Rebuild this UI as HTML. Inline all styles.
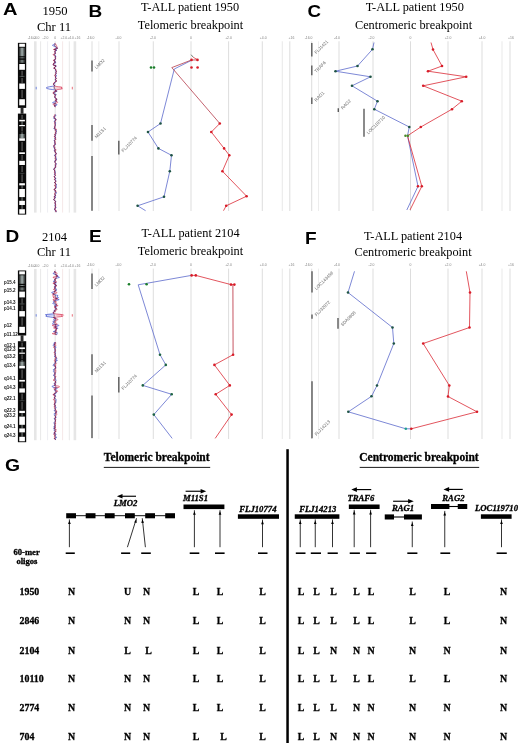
<!DOCTYPE html>
<html><head><meta charset="utf-8"><title>Figure</title>
<style>
html,body{margin:0;padding:0;background:#fff;}
body{width:520px;height:743px;overflow:hidden;font-family:"Liberation Serif",serif;}
svg{display:block;filter:blur(0.35px);}
</style></head><body>
<svg width="520" height="743" viewBox="0 0 520 743">
<defs>
<linearGradient id="gL" x1="0" x2="1" y1="0" y2="0"><stop offset="0" stop-color="#1c1c1c"/><stop offset="0.5" stop-color="#a3b0ae"/><stop offset="1" stop-color="#1c1c1c"/></linearGradient>
<linearGradient id="gM" x1="0" x2="1" y1="0" y2="0"><stop offset="0" stop-color="#111"/><stop offset="0.5" stop-color="#7c8684"/><stop offset="1" stop-color="#111"/></linearGradient>
<linearGradient id="gD" x1="0" x2="1" y1="0" y2="0"><stop offset="0" stop-color="#050505"/><stop offset="0.3" stop-color="#0c0c0c"/><stop offset="0.5" stop-color="#6a706e"/><stop offset="0.7" stop-color="#0c0c0c"/><stop offset="1" stop-color="#050505"/></linearGradient>
</defs>
<rect width="520" height="743" fill="#fff"/>
<text transform='translate(2.9,15.2) scale(1.16,1)' font-size='17.3' font-weight='bold' font-family='"Liberation Sans", sans-serif' fill='#000'>A</text>
<text transform='translate(88.4,17.4) scale(1.1,1)' font-size='17.3' font-weight='bold' font-family='"Liberation Sans", sans-serif' fill='#000'>B</text>
<text transform='translate(307.6,17.3) scale(1.08,1)' font-size='17.3' font-weight='bold' font-family='"Liberation Sans", sans-serif' fill='#000'>C</text>
<text transform='translate(5.6,242.3) scale(1.1,1)' font-size='17.3' font-weight='bold' font-family='"Liberation Sans", sans-serif' fill='#000'>D</text>
<text transform='translate(89.0,242.3) scale(1.1,1)' font-size='17.3' font-weight='bold' font-family='"Liberation Sans", sans-serif' fill='#000'>E</text>
<text transform='translate(304.9,243.8) scale(1.1,1)' font-size='17.3' font-weight='bold' font-family='"Liberation Sans", sans-serif' fill='#000'>F</text>
<text transform='translate(4.9,471.3) scale(1.12,1)' font-size='17.3' font-weight='bold' font-family='"Liberation Sans", sans-serif' fill='#000'>G</text>
<text x='55' y='15' font-size='12.6' text-anchor='middle' font-weight='normal' font-style='normal' font-family='"Liberation Serif", serif' fill='#000' >1950</text>
<text x='54' y='30.5' font-size='12.6' text-anchor='middle' font-weight='normal' font-style='normal' font-family='"Liberation Serif", serif' fill='#000' >Chr 11</text>
<text x='54.5' y='241' font-size='12.5' text-anchor='middle' font-weight='normal' font-style='normal' font-family='"Liberation Serif", serif' fill='#000' >2104</text>
<text x='54' y='256' font-size='12.5' text-anchor='middle' font-weight='normal' font-style='normal' font-family='"Liberation Serif", serif' fill='#000' >Chr 11</text>
<text x='190' y='10.5' font-size='12.3' text-anchor='middle' font-weight='normal' font-style='normal' font-family='"Liberation Serif", serif' fill='#000' >T-ALL patient 1950</text>
<text x='190.5' y='29' font-size='12.3' text-anchor='middle' font-weight='normal' font-style='normal' font-family='"Liberation Serif", serif' fill='#000' >Telomeric breakpoint</text>
<text x='414.8' y='10.5' font-size='12.3' text-anchor='middle' font-weight='normal' font-style='normal' font-family='"Liberation Serif", serif' fill='#000' >T-ALL patient 1950</text>
<text x='413.5' y='29' font-size='12.3' text-anchor='middle' font-weight='normal' font-style='normal' font-family='"Liberation Serif", serif' fill='#000' >Centromeric breakpoint</text>
<text x='190.5' y='237' font-size='12.3' text-anchor='middle' font-weight='normal' font-style='normal' font-family='"Liberation Serif", serif' fill='#000' >T-ALL patient 2104</text>
<text x='190.5' y='255' font-size='12.3' text-anchor='middle' font-weight='normal' font-style='normal' font-family='"Liberation Serif", serif' fill='#000' >Telomeric breakpoint</text>
<text x='413' y='239.5' font-size='12.3' text-anchor='middle' font-weight='normal' font-style='normal' font-family='"Liberation Serif", serif' fill='#000' >T-ALL patient 2104</text>
<text x='413' y='255.5' font-size='12.3' text-anchor='middle' font-weight='normal' font-style='normal' font-family='"Liberation Serif", serif' fill='#000' >Centromeric breakpoint</text>
<ellipse cx='59.1' cy='88' rx='3.7' ry='1.35' fill='#f9ccd2'/>
<ellipse cx='51.2' cy='88' rx='3.5' ry='1.3' fill='#f4f5ff'/>
<rect x='17.90' y='42.85' width='8.30' height='65.05' fill='#0a0a0a' />
<rect x='17.90' y='113.60' width='8.30' height='101.00' fill='#0a0a0a' />
<rect x='20.60' y='107.70' width='2.90' height='6.10' fill='#2a2a2a' />
<rect x='19.25' y='43.75' width='5.65' height='3.05' fill='#fff' />
<rect x='18.85' y='47.70' width='6.45' height='8.50' fill='url(#gL)' />
<rect x='18.85' y='57.40' width='6.45' height='0.90' fill='url(#gL)' />
<rect x='18.85' y='59.80' width='6.45' height='3.00' fill='url(#gM)' />
<rect x='19.25' y='64.00' width='5.65' height='5.80' fill='#fff' />
<rect x='18.85' y='75.90' width='6.45' height='0.90' fill='url(#gM)' />
<rect x='19.25' y='83.50' width='5.65' height='5.40' fill='#fff' />
<rect x='19.25' y='99.20' width='5.65' height='6.10' fill='#fff' />
<rect x='19.25' y='119.80' width='5.65' height='1.80' fill='#fff' />
<rect x='18.85' y='121.60' width='6.45' height='3.40' fill='url(#gD)' />
<rect x='19.25' y='125.00' width='5.65' height='1.20' fill='#fff' />
<rect x='18.85' y='132.30' width='6.45' height='1.70' fill='url(#gD)' />
<rect x='18.85' y='134.00' width='6.45' height='4.30' fill='url(#gL)' />
<rect x='19.25' y='138.30' width='5.65' height='2.50' fill='#fff' />
<rect x='19.25' y='152.30' width='5.65' height='1.70' fill='#fff' />
<rect x='19.25' y='160.80' width='5.65' height='4.20' fill='#fff' />
<rect x='18.85' y='172.90' width='6.45' height='0.60' fill='url(#gM)' />
<rect x='19.25' y='183.20' width='5.65' height='2.40' fill='#fff' />
<rect x='18.85' y='185.60' width='6.45' height='3.00' fill='url(#gD)' />
<rect x='19.25' y='189.00' width='5.65' height='8.30' fill='#fff' />
<rect x='18.85' y='197.30' width='6.45' height='3.50' fill='url(#gD)' />
<rect x='19.25' y='200.80' width='5.65' height='4.20' fill='#fff' />
<rect x='18.85' y='205.00' width='6.45' height='4.20' fill='url(#gD)' />
<rect x='19.25' y='209.20' width='5.65' height='4.50' fill='#fff' />
<rect x='21.20' y='70.80' width='1.80' height='4.80' fill='#505050' opacity='0.8'/>
<rect x='21.20' y='78.00' width='1.80' height='5.00' fill='#505050' opacity='0.8'/>
<rect x='21.20' y='90.00' width='1.80' height='8.00' fill='#505050' opacity='0.8'/>
<rect x='21.20' y='115.00' width='1.80' height='4.00' fill='#505050' opacity='0.8'/>
<rect x='21.20' y='127.00' width='1.80' height='4.50' fill='#505050' opacity='0.8'/>
<rect x='21.20' y='142.00' width='1.80' height='9.00' fill='#505050' opacity='0.8'/>
<rect x='21.20' y='155.00' width='1.80' height='5.00' fill='#505050' opacity='0.8'/>
<rect x='21.20' y='166.00' width='1.80' height='6.00' fill='#505050' opacity='0.8'/>
<rect x='21.20' y='174.50' width='1.80' height='7.50' fill='#505050' opacity='0.8'/>
<rect x='34.00' y='41.30' width='2.60' height='171.30' fill='#e6e6e6' />
<rect x='73.60' y='41.30' width='2.60' height='171.30' fill='#e6e6e6' />
<line x1='40.6' y1='41.3' x2='40.6' y2='212.6' stroke='#d8d8d8' stroke-width='0.6' />
<line x1='47.6' y1='41.3' x2='47.6' y2='212.6' stroke='#e0e0e8' stroke-width='0.6' />
<line x1='55.2' y1='41.3' x2='55.2' y2='212.6' stroke='#d0d0d0' stroke-width='0.6' />
<line x1='62.6' y1='41.3' x2='62.6' y2='212.6' stroke='#eed8d8' stroke-width='0.6' />
<line x1='69.3' y1='41.3' x2='69.3' y2='212.6' stroke='#d8d8d8' stroke-width='0.6' />
<text x='31.5' y='39' font-size='3.4' text-anchor='middle' font-weight='normal' font-style='normal' font-family='"Liberation Sans", sans-serif' fill='#808080' >-16.0</text>
<text x='36.5' y='39' font-size='3.4' text-anchor='middle' font-weight='normal' font-style='normal' font-family='"Liberation Sans", sans-serif' fill='#808080' >-4.0</text>
<text x='45.5' y='39' font-size='3.4' text-anchor='middle' font-weight='normal' font-style='normal' font-family='"Liberation Sans", sans-serif' fill='#808080' >-2.0</text>
<text x='55.2' y='39' font-size='3.4' text-anchor='middle' font-weight='normal' font-style='normal' font-family='"Liberation Sans", sans-serif' fill='#808080' >0</text>
<text x='63.9' y='39' font-size='3.4' text-anchor='middle' font-weight='normal' font-style='normal' font-family='"Liberation Sans", sans-serif' fill='#808080' >+2.0</text>
<text x='70.6' y='39' font-size='3.4' text-anchor='middle' font-weight='normal' font-style='normal' font-family='"Liberation Sans", sans-serif' fill='#808080' >+4.0</text>
<text x='77.4' y='39' font-size='3.4' text-anchor='middle' font-weight='normal' font-style='normal' font-family='"Liberation Sans", sans-serif' fill='#808080' >+16</text>
<polyline points='54.64,43.50 54.77,43.90 54.69,44.30 53.43,44.70 52.53,45.10 52.67,45.50 53.42,45.90 54.01,46.30 54.85,46.70 55.85,47.10 56.49,47.50 57.17,47.90 57.60,48.30 56.72,48.70 55.39,49.10 54.73,49.50 56.23,49.90 56.87,50.30 56.16,50.70 55.43,51.10 55.07,51.50 54.99,51.90 55.32,52.30 55.37,52.70 55.53,53.10 55.41,53.50 55.05,53.90 54.77,54.30 54.72,54.70 55.15,55.10 55.51,55.50 55.61,55.90 55.76,56.30 55.68,56.70 55.72,57.10 55.03,57.50 55.45,57.90 55.33,58.30 55.35,58.70 55.11,59.10 55.34,59.50 55.01,59.90 54.18,60.30 54.41,60.70 55.05,61.10 55.25,61.50 54.79,61.90 55.68,62.30 55.91,62.70 54.76,63.10 53.76,63.50 54.17,63.90 53.89,64.30 53.38,64.70 53.42,65.10 55.01,65.50 56.23,65.90 56.16,66.30 55.31,66.70 54.92,67.10 54.78,67.50 54.04,67.90 54.03,68.30 54.73,68.70 55.15,69.10 55.41,69.50 55.68,69.90 55.56,70.30 55.50,70.70 56.25,71.10 56.15,71.50 56.02,71.90 55.85,72.30 55.72,72.70 56.19,73.10 56.31,73.50 56.09,73.90 55.66,74.30 55.71,74.70 55.88,75.10 56.43,75.50 56.77,75.90 56.07,76.30 55.46,76.70 55.00,77.10 55.57,77.50 55.96,77.90 56.04,78.30 55.93,78.70 55.36,79.10 54.94,79.50 55.46,79.90 55.82,80.30 55.62,80.70 55.73,81.10 55.90,81.50 55.56,81.90 55.12,82.30 54.49,82.70 54.22,83.10 54.48,83.50 54.06,83.90 53.45,84.30 53.92,84.70 54.39,85.10 54.81,85.50 53.94,85.90 52.33,86.30 49.56,86.70 47.87,87.10 46.72,87.50 46.15,87.90 46.73,88.30 47.76,88.70 49.23,89.10 52.32,89.50 54.59,89.90 55.30,90.30 56.58,90.70 57.18,91.10 56.54,91.50 54.94,91.90 54.11,92.30 54.32,92.70 54.29,93.10 53.81,93.50 54.58,93.90 55.71,94.30 56.35,94.70 55.64,95.10 55.16,95.50 55.09,95.90 55.05,96.30 54.97,96.70 54.98,97.10 54.71,97.50 54.89,97.90 55.41,98.30 56.11,98.70 56.63,99.10 57.16,99.50 56.25,99.90 55.74,100.30 56.23,100.70 56.47,101.10 55.73,101.50 54.19,101.90 52.96,102.30 52.54,102.70 53.24,103.10 55.09,103.50 55.77,103.90 56.36,104.30 57.10,104.70 56.87,105.10 54.77,105.50 54.43,105.90 54.94,106.30 55.00,106.70 55.25,107.10' fill='none' stroke='#3446c8' stroke-width='0.7' stroke-linejoin='round' opacity='0.95'/>
<polyline points='55.02,43.50 55.06,43.90 55.78,44.30 56.12,44.70 55.99,45.10 56.42,45.50 56.92,45.90 56.97,46.30 56.78,46.70 56.87,47.10 56.99,47.50 57.22,47.90 57.35,48.30 56.23,48.70 54.60,49.10 53.39,49.50 54.76,49.90 55.82,50.30 55.64,50.70 55.18,51.10 54.60,51.50 54.27,51.90 54.58,52.30 55.09,52.70 55.61,53.10 55.25,53.50 54.21,53.90 53.43,54.30 53.09,54.70 53.33,55.10 54.06,55.50 54.56,55.90 55.21,56.30 55.30,56.70 55.60,57.10 55.20,57.50 55.49,57.90 55.64,58.30 55.82,58.70 55.22,59.10 54.86,59.50 54.03,59.90 53.19,60.30 53.57,60.70 54.67,61.10 55.06,61.50 54.28,61.90 54.66,62.30 54.47,62.70 53.83,63.10 53.19,63.50 53.74,63.90 53.19,64.30 52.91,64.70 53.50,65.10 55.04,65.50 55.99,65.90 55.83,66.30 54.99,66.70 54.50,67.10 54.51,67.50 53.76,67.90 53.80,68.30 55.06,68.70 55.79,69.10 55.81,69.50 55.97,69.90 56.15,70.30 56.22,70.70 56.30,71.10 56.22,71.50 56.44,71.90 56.32,72.30 55.78,72.70 55.70,73.10 55.72,73.50 55.41,73.90 55.29,74.30 55.57,74.70 55.05,75.10 54.47,75.50 54.62,75.90 55.27,76.30 55.58,76.70 55.14,77.10 55.67,77.50 56.24,77.90 56.52,78.30 56.20,78.70 55.54,79.10 55.50,79.50 56.21,79.90 56.44,80.30 56.34,80.70 56.77,81.10 56.38,81.50 55.16,81.90 54.60,82.30 54.07,82.70 53.52,83.10 53.49,83.50 53.52,83.90 53.57,84.30 54.09,84.70 54.13,85.10 54.41,85.50 54.28,85.90 55.35,86.30 58.44,86.70 61.77,87.10 62.01,87.50 61.20,87.90 61.72,88.30 62.38,88.70 60.98,89.10 58.04,89.50 55.65,89.90 55.04,90.30 55.97,90.70 56.39,91.10 55.68,91.50 54.11,91.90 53.08,92.30 53.20,92.70 53.43,93.10 53.20,93.50 53.55,93.90 54.02,94.30 55.05,94.70 55.30,95.10 55.21,95.50 54.72,95.90 54.65,96.30 54.88,96.70 55.19,97.10 55.08,97.50 55.48,97.90 56.17,98.30 56.69,98.70 56.70,99.10 56.48,99.50 55.27,99.90 55.12,100.30 56.24,100.70 56.63,101.10 56.09,101.50 57.42,101.90 57.71,102.30 57.33,102.70 56.40,103.10 55.25,103.50 53.71,103.90 52.85,104.30 53.37,104.70 54.41,105.10 54.38,105.50 54.20,105.90 55.06,106.30 55.44,106.70 55.39,107.10' fill='none' stroke='#d01c40' stroke-width='0.7' stroke-linejoin='round' opacity='0.85'/>
<polyline points='54.83,43.50 54.92,43.90 55.24,44.30 54.77,44.70 54.26,45.10 54.54,45.50 55.17,45.90 55.49,46.30 55.82,46.70 56.36,47.10 56.74,47.50 57.20,47.90 57.47,48.30 56.48,48.70 55.00,49.10 54.06,49.50 55.49,49.90 56.35,50.30 55.90,50.70 55.30,51.10 54.83,51.50 54.63,51.90 54.95,52.30 55.23,52.70 55.57,53.10 55.33,53.50 54.63,53.90 54.10,54.30 53.91,54.70 54.24,55.10 54.79,55.50 55.08,55.90 55.48,56.30 55.49,56.70 55.66,57.10 55.12,57.50 55.47,57.90 55.48,58.30 55.58,58.70 55.16,59.10 55.10,59.50 54.52,59.90 53.68,60.30 53.99,60.70 54.86,61.10 55.16,61.50 54.54,61.90 55.17,62.30 55.19,62.70 54.29,63.10 53.47,63.50 53.95,63.90 53.54,64.30 53.15,64.70 53.46,65.10 55.02,65.50 56.11,65.90 56.00,66.30 55.15,66.70 54.71,67.10 54.64,67.50 53.90,67.90 53.92,68.30 54.89,68.70 55.47,69.10 55.61,69.50 55.83,69.90 55.85,70.30 55.86,70.70 56.28,71.10 56.18,71.50 56.23,71.90 56.09,72.30 55.75,72.70 55.94,73.10 56.02,73.50 55.75,73.90 55.48,74.30 55.64,74.70 55.46,75.10 55.45,75.50 55.70,75.90 55.67,76.30 55.52,76.70 55.07,77.10 55.62,77.50 56.10,77.90 56.28,78.30 56.07,78.70 55.45,79.10 55.22,79.50 55.83,79.90 56.13,80.30 55.98,80.70 56.25,81.10 56.14,81.50 55.36,81.90 54.86,82.30 54.28,82.70 53.87,83.10 53.99,83.50 53.79,83.90 53.51,84.30 54.01,84.70 54.26,85.10 54.61,85.50 54.11,85.90 53.84,86.30 54.00,86.70 54.82,87.10 54.37,87.50 53.67,87.90 54.23,88.30 55.07,88.70 55.10,89.10 55.18,89.50 55.12,89.90 55.17,90.30 56.27,90.70 56.78,91.10 56.11,91.50 54.52,91.90 53.60,92.30 53.76,92.70 53.86,93.10 53.50,93.50 54.06,93.90 54.86,94.30 55.70,94.70 55.47,95.10 55.18,95.50 54.91,95.90 54.85,96.30 54.93,96.70 55.09,97.10 54.89,97.50 55.18,97.90 55.79,98.30 56.40,98.70 56.66,99.10 56.82,99.50 55.76,99.90 55.43,100.30 56.23,100.70 56.55,101.10 55.91,101.50 55.80,101.90 55.33,102.30 54.94,102.70 54.82,103.10 55.17,103.50 54.74,103.90 54.61,104.30 55.24,104.70 55.64,105.10 54.57,105.50 54.31,105.90 55.00,106.30 55.22,106.70 55.32,107.10' fill='none' stroke='#5a1444' stroke-width='0.8' stroke-linejoin='round' opacity='0.75'/>
<polyline points='55.59,114.50 55.72,114.90 55.84,115.30 55.86,115.70 55.45,116.10 54.68,116.50 54.10,116.90 53.92,117.30 53.94,117.70 53.57,118.10 53.77,118.50 55.06,118.90 56.24,119.30 56.08,119.70 55.20,120.10 54.83,120.50 54.58,120.90 54.38,121.30 54.36,121.70 54.55,122.10 55.32,122.50 55.95,122.90 55.78,123.30 55.37,123.70 55.14,124.10 55.35,124.50 55.44,124.90 55.43,125.30 55.25,125.70 55.35,126.10 55.10,126.50 54.57,126.90 54.40,127.30 54.64,127.70 54.29,128.10 53.91,128.50 54.11,128.90 54.83,129.30 55.49,129.70 56.18,130.10 56.36,130.50 56.32,130.90 56.32,131.30 56.33,131.70 56.24,132.10 56.09,132.50 55.86,132.90 55.93,133.30 55.82,133.70 55.79,134.10 55.71,134.50 55.63,134.90 54.99,135.30 55.00,135.70 55.22,136.10 55.10,136.50 55.31,136.90 55.52,137.30 55.53,137.70 54.94,138.10 54.64,138.50 54.73,138.90 54.99,139.30 54.90,139.70 54.60,140.10 54.20,140.50 53.94,140.90 54.36,141.30 54.61,141.70 54.71,142.10 54.47,142.50 54.69,142.90 54.82,143.30 54.87,143.70 55.24,144.10 55.57,144.50 54.94,144.90 54.17,145.30 54.05,145.70 54.05,146.10 53.75,146.50 53.74,146.90 53.90,147.30 53.95,147.70 54.25,148.10 54.72,148.50 54.91,148.90 54.47,149.30 54.53,149.70 54.64,150.10 54.26,150.50 54.05,150.90 54.72,151.30 55.28,151.70 55.56,152.10 55.83,152.50 55.70,152.90 56.10,153.30 56.33,153.70 56.41,154.10 56.00,154.50 54.97,154.90 54.25,155.30 54.61,155.70 55.46,156.10 55.80,156.50 55.60,156.90 55.74,157.30 56.23,157.70 56.48,158.10 56.28,158.50 55.94,158.90 56.36,159.30 56.70,159.70 56.19,160.10 54.99,160.50 54.72,160.90 54.84,161.30 55.03,161.70 54.80,162.10 55.22,162.50 55.61,162.90 55.92,163.30 56.20,163.70 56.16,164.10 56.14,164.50 56.24,164.90 55.75,165.30 55.01,165.70 55.19,166.10 55.41,166.50 55.36,166.90 55.65,167.30 55.59,167.70 54.77,168.10 53.95,168.50 53.75,168.90 53.60,169.30 53.95,169.70 54.64,170.10 54.71,170.50 54.81,170.90 55.03,171.30 54.97,171.70 55.08,172.10 55.44,172.50 55.17,172.90 54.89,173.30 54.67,173.70 54.34,174.10 54.43,174.50 54.85,174.90 55.34,175.30 55.30,175.70 54.86,176.10 54.43,176.50 54.28,176.90 54.54,177.30 55.04,177.70 55.75,178.10 56.02,178.50 55.59,178.90 55.08,179.30 55.13,179.70 55.42,180.10 55.81,180.50 55.82,180.90 55.70,181.30 55.57,181.70 55.15,182.10 54.55,182.50 54.92,182.90 55.24,183.30 55.89,183.70 56.34,184.10 56.50,184.50 56.33,184.90 56.47,185.30 56.00,185.70 55.91,186.10 56.11,186.50 56.15,186.90 56.06,187.30 56.38,187.70 55.86,188.10 54.90,188.50 54.73,188.90 54.57,189.30 54.47,189.70 54.90,190.10 55.35,190.50 55.10,190.90 54.87,191.30 55.17,191.70 55.74,192.10 56.31,192.50 56.59,192.90 56.07,193.30 55.84,193.70 55.49,194.10 55.15,194.50 55.24,194.90 55.58,195.30 55.37,195.70 54.36,196.10 54.28,196.50 55.31,196.90 55.85,197.30 54.99,197.70 54.45,198.10 54.35,198.50 54.23,198.90 54.17,199.30 53.71,199.70 54.16,200.10 54.71,200.50 55.37,200.90 55.70,201.30 55.86,201.70 55.35,202.10 55.20,202.50 55.50,202.90 55.35,203.30 55.32,203.70 55.48,204.10 55.33,204.50 54.82,204.90 54.80,205.30 55.16,205.70 55.33,206.10 55.28,206.50 55.75,206.90 56.15,207.30 55.95,207.70 55.06,208.10 54.77,208.50 54.75,208.90 54.73,209.30 54.56,209.70 54.66,210.10 55.34,210.50 56.03,210.90 56.31,211.30 56.19,211.70 56.21,212.10' fill='none' stroke='#3446c8' stroke-width='0.7' stroke-linejoin='round' opacity='0.95'/>
<polyline points='54.77,114.50 54.51,114.90 54.46,115.30 54.42,115.70 54.15,116.10 53.81,116.50 53.89,116.90 54.25,117.30 54.67,117.70 54.81,118.10 55.02,118.50 55.49,118.90 55.99,119.30 55.87,119.70 55.69,120.10 55.76,120.50 55.62,120.90 55.37,121.30 55.12,121.70 54.83,122.10 54.71,122.50 54.55,122.90 54.46,123.30 54.78,123.70 55.05,124.10 55.09,124.50 55.07,124.90 55.14,125.30 54.96,125.70 55.21,126.10 54.88,126.50 54.35,126.90 54.60,127.30 55.07,127.70 54.68,128.10 54.62,128.50 55.69,128.90 56.57,129.30 56.24,129.70 55.57,130.10 55.17,130.50 55.54,130.90 55.91,131.30 55.82,131.70 55.21,132.10 55.37,132.50 55.85,132.90 56.10,133.30 55.28,133.70 54.59,134.10 54.49,134.50 55.04,134.90 55.42,135.30 55.66,135.70 55.16,136.10 54.11,136.50 54.08,136.90 54.98,137.30 55.57,137.70 55.32,138.10 55.56,138.50 56.07,138.90 56.14,139.30 55.30,139.70 54.66,140.10 54.72,140.50 55.02,140.90 55.15,141.30 54.94,141.70 55.03,142.10 55.03,142.50 55.54,142.90 55.50,143.30 54.85,143.70 54.61,144.10 54.72,144.50 54.39,144.90 53.98,145.30 53.72,145.70 53.69,146.10 54.03,146.50 54.71,146.90 54.97,147.30 54.58,147.70 54.23,148.10 54.45,148.50 54.99,148.90 55.27,149.30 56.05,149.70 56.28,150.10 55.28,150.50 54.52,150.90 54.92,151.30 55.48,151.70 55.39,152.10 55.15,152.50 55.20,152.90 56.11,153.30 56.43,153.70 55.92,154.10 55.62,154.50 55.81,154.90 55.77,155.30 55.64,155.70 55.56,156.10 55.36,156.50 55.05,156.90 55.15,157.30 55.48,157.70 55.44,158.10 55.04,158.50 54.86,158.90 55.37,159.30 55.81,159.70 56.10,160.10 55.82,160.50 55.59,160.90 55.09,161.30 54.97,161.70 54.72,162.10 55.16,162.50 55.55,162.90 55.73,163.30 55.48,163.70 54.96,164.10 55.04,164.50 55.46,164.90 55.72,165.30 55.74,165.70 56.12,166.10 55.76,166.50 55.02,166.90 54.99,167.30 55.05,167.70 54.71,168.10 54.41,168.50 54.52,168.90 53.98,169.30 53.85,169.70 54.46,170.10 54.55,170.50 54.46,170.90 54.61,171.30 54.56,171.70 54.54,172.10 54.42,172.50 54.33,172.90 54.97,173.30 55.45,173.70 55.30,174.10 55.11,174.50 55.44,174.90 55.53,175.30 55.02,175.70 54.51,176.10 54.22,176.50 54.16,176.90 54.40,177.30 54.92,177.70 55.30,178.10 54.95,178.50 54.49,178.90 54.36,179.30 54.44,179.70 54.65,180.10 55.07,180.50 55.53,180.90 56.02,181.30 55.96,181.70 55.46,182.10 54.51,182.50 54.69,182.90 54.98,183.30 55.65,183.70 55.92,184.10 55.41,184.50 54.74,184.90 54.61,185.30 54.33,185.70 55.06,186.10 55.78,186.50 55.70,186.90 55.16,187.30 55.61,187.70 56.00,188.10 55.58,188.50 54.96,188.90 53.97,189.30 53.67,189.70 54.43,190.10 55.60,190.50 56.07,190.90 56.06,191.30 55.91,191.70 55.57,192.10 55.11,192.50 54.67,192.90 54.22,193.30 54.70,193.70 55.14,194.10 54.80,194.50 54.80,194.90 55.38,195.30 55.57,195.70 54.80,196.10 54.16,196.50 54.52,196.90 54.55,197.30 54.18,197.70 54.58,198.10 54.71,198.50 54.37,198.90 53.89,199.30 53.62,199.70 54.14,200.10 54.67,200.50 55.08,200.90 55.25,201.30 55.41,201.70 54.86,202.10 54.73,202.50 55.26,202.90 55.25,203.30 55.04,203.70 55.41,204.10 55.63,204.50 55.48,204.90 55.51,205.30 55.96,205.70 56.03,206.10 55.46,206.50 55.00,206.90 55.01,207.30 55.20,207.70 55.03,208.10 55.14,208.50 54.96,208.90 54.77,209.30 54.90,209.70 55.69,210.10 56.27,210.50 55.92,210.90 55.68,211.30 55.83,211.70 56.02,212.10' fill='none' stroke='#d01c40' stroke-width='0.7' stroke-linejoin='round' opacity='0.85'/>
<polyline points='55.18,114.50 55.12,114.90 55.15,115.30 55.14,115.70 54.80,116.10 54.24,116.50 53.99,116.90 54.08,117.30 54.31,117.70 54.19,118.10 54.40,118.50 55.28,118.90 56.12,119.30 55.98,119.70 55.45,120.10 55.30,120.50 55.10,120.90 54.88,121.30 54.74,121.70 54.69,122.10 55.01,122.50 55.25,122.90 55.12,123.30 55.08,123.70 55.09,124.10 55.22,124.50 55.25,124.90 55.29,125.30 55.11,125.70 55.28,126.10 54.99,126.50 54.46,126.90 54.50,127.30 54.85,127.70 54.48,128.10 54.27,128.50 54.90,128.90 55.70,129.30 55.87,129.70 55.87,130.10 55.77,130.50 55.93,130.90 56.12,131.30 56.08,131.70 55.73,132.10 55.73,132.50 55.86,132.90 56.02,133.30 55.55,133.70 55.19,134.10 55.10,134.50 55.34,134.90 55.21,135.30 55.33,135.70 55.19,136.10 54.60,136.50 54.69,136.90 55.25,137.30 55.55,137.70 55.13,138.10 55.10,138.50 55.40,138.90 55.56,139.30 55.10,139.70 54.63,140.10 54.46,140.50 54.48,140.90 54.76,141.30 54.77,141.70 54.87,142.10 54.75,142.50 55.11,142.90 55.16,143.30 54.86,143.70 54.93,144.10 55.14,144.50 54.67,144.90 54.08,145.30 53.88,145.70 53.87,146.10 53.89,146.50 54.22,146.90 54.43,147.30 54.27,147.70 54.24,148.10 54.58,148.50 54.95,148.90 54.87,149.30 55.29,149.70 55.46,150.10 54.77,150.50 54.29,150.90 54.82,151.30 55.38,151.70 55.47,152.10 55.49,152.50 55.45,152.90 56.10,153.30 56.38,153.70 56.17,154.10 55.81,154.50 55.39,154.90 55.01,155.30 55.12,155.70 55.51,156.10 55.58,156.50 55.33,156.90 55.44,157.30 55.86,157.70 55.96,158.10 55.66,158.50 55.40,158.90 55.87,159.30 56.25,159.70 56.14,160.10 55.40,160.50 55.16,160.90 54.97,161.30 55.00,161.70 54.76,162.10 55.19,162.50 55.58,162.90 55.82,163.30 55.84,163.70 55.56,164.10 55.59,164.50 55.85,164.90 55.73,165.30 55.37,165.70 55.66,166.10 55.58,166.50 55.19,166.90 55.32,167.30 55.32,167.70 54.74,168.10 54.18,168.50 54.13,168.90 53.79,169.30 53.90,169.70 54.55,170.10 54.63,170.50 54.64,170.90 54.82,171.30 54.77,171.70 54.81,172.10 54.93,172.50 54.75,172.90 54.93,173.30 55.06,173.70 54.82,174.10 54.77,174.50 55.14,174.90 55.43,175.30 55.16,175.70 54.69,176.10 54.33,176.50 54.22,176.90 54.47,177.30 54.98,177.70 55.52,178.10 55.48,178.50 55.04,178.90 54.72,179.30 54.79,179.70 55.03,180.10 55.44,180.50 55.68,180.90 55.86,181.30 55.77,181.70 55.30,182.10 54.53,182.50 54.80,182.90 55.11,183.30 55.77,183.70 56.13,184.10 55.96,184.50 55.53,184.90 55.54,185.30 55.16,185.70 55.49,186.10 55.95,186.50 55.92,186.90 55.61,187.30 56.00,187.70 55.93,188.10 55.24,188.50 54.85,188.90 54.27,189.30 54.07,189.70 54.66,190.10 55.48,190.50 55.58,190.90 55.46,191.30 55.54,191.70 55.66,192.10 55.71,192.50 55.63,192.90 55.15,193.30 55.27,193.70 55.31,194.10 54.98,194.50 55.02,194.90 55.48,195.30 55.47,195.70 54.58,196.10 54.22,196.50 54.91,196.90 55.20,197.30 54.58,197.70 54.52,198.10 54.53,198.50 54.30,198.90 54.03,199.30 53.67,199.70 54.15,200.10 54.69,200.50 55.22,200.90 55.48,201.30 55.63,201.70 55.11,202.10 54.97,202.50 55.38,202.90 55.30,203.30 55.18,203.70 55.44,204.10 55.48,204.50 55.15,204.90 55.15,205.30 55.56,205.70 55.68,206.10 55.37,206.50 55.37,206.90 55.58,207.30 55.58,207.70 55.04,208.10 54.95,208.50 54.85,208.90 54.75,209.30 54.73,209.70 55.18,210.10 55.80,210.50 55.98,210.90 56.00,211.30 56.01,211.70 56.12,212.10' fill='none' stroke='#5a1444' stroke-width='0.8' stroke-linejoin='round' opacity='0.75'/>
<line x1='36.2' y1='86.8' x2='36.2' y2='89.4' stroke='#4060d8' stroke-width='0.7' />
<line x1='72.3' y1='86.8' x2='72.3' y2='89.4' stroke='#e03040' stroke-width='0.7' />
<ellipse cx='59.9' cy='315.3' rx='4.4' ry='1.35' fill='#f6bcc6'/>
<ellipse cx='50.6' cy='315.3' rx='4.2' ry='1.3' fill='#c9d2fa'/>
<rect x='17.90' y='270.45' width='8.30' height='65.05' fill='#0a0a0a' />
<rect x='17.90' y='341.20' width='8.30' height='101.00' fill='#0a0a0a' />
<rect x='20.60' y='335.30' width='2.90' height='6.10' fill='#2a2a2a' />
<rect x='19.25' y='271.35' width='5.65' height='3.05' fill='#fff' />
<rect x='18.85' y='275.30' width='6.45' height='8.50' fill='url(#gL)' />
<rect x='18.85' y='285.00' width='6.45' height='0.90' fill='url(#gL)' />
<rect x='18.85' y='287.40' width='6.45' height='3.00' fill='url(#gM)' />
<rect x='19.25' y='291.60' width='5.65' height='5.80' fill='#fff' />
<rect x='18.85' y='303.50' width='6.45' height='0.90' fill='url(#gM)' />
<rect x='19.25' y='311.10' width='5.65' height='5.40' fill='#fff' />
<rect x='19.25' y='326.80' width='5.65' height='6.10' fill='#fff' />
<rect x='19.25' y='347.40' width='5.65' height='1.80' fill='#fff' />
<rect x='18.85' y='349.20' width='6.45' height='3.40' fill='url(#gD)' />
<rect x='19.25' y='352.60' width='5.65' height='1.20' fill='#fff' />
<rect x='18.85' y='359.90' width='6.45' height='1.70' fill='url(#gD)' />
<rect x='18.85' y='361.60' width='6.45' height='4.30' fill='url(#gL)' />
<rect x='19.25' y='365.90' width='5.65' height='2.50' fill='#fff' />
<rect x='19.25' y='379.90' width='5.65' height='1.70' fill='#fff' />
<rect x='19.25' y='388.40' width='5.65' height='4.20' fill='#fff' />
<rect x='18.85' y='400.50' width='6.45' height='0.60' fill='url(#gM)' />
<rect x='19.25' y='410.80' width='5.65' height='2.40' fill='#fff' />
<rect x='18.85' y='413.20' width='6.45' height='3.00' fill='url(#gD)' />
<rect x='19.25' y='416.60' width='5.65' height='8.30' fill='#fff' />
<rect x='18.85' y='424.90' width='6.45' height='3.50' fill='url(#gD)' />
<rect x='19.25' y='428.40' width='5.65' height='4.20' fill='#fff' />
<rect x='18.85' y='432.60' width='6.45' height='4.20' fill='url(#gD)' />
<rect x='19.25' y='436.80' width='5.65' height='4.50' fill='#fff' />
<rect x='21.20' y='298.40' width='1.80' height='4.80' fill='#505050' opacity='0.8'/>
<rect x='21.20' y='305.60' width='1.80' height='5.00' fill='#505050' opacity='0.8'/>
<rect x='21.20' y='317.60' width='1.80' height='8.00' fill='#505050' opacity='0.8'/>
<rect x='21.20' y='342.60' width='1.80' height='4.00' fill='#505050' opacity='0.8'/>
<rect x='21.20' y='354.60' width='1.80' height='4.50' fill='#505050' opacity='0.8'/>
<rect x='21.20' y='369.60' width='1.80' height='9.00' fill='#505050' opacity='0.8'/>
<rect x='21.20' y='382.60' width='1.80' height='5.00' fill='#505050' opacity='0.8'/>
<rect x='21.20' y='393.60' width='1.80' height='6.00' fill='#505050' opacity='0.8'/>
<rect x='21.20' y='402.10' width='1.80' height='7.50' fill='#505050' opacity='0.8'/>
<rect x='34.00' y='268.90' width='2.60' height='171.30' fill='#e6e6e6' />
<rect x='73.60' y='268.90' width='2.60' height='171.30' fill='#e6e6e6' />
<line x1='40.6' y1='268.9' x2='40.6' y2='440.2' stroke='#d8d8d8' stroke-width='0.6' />
<line x1='47.6' y1='268.9' x2='47.6' y2='440.2' stroke='#e0e0e8' stroke-width='0.6' />
<line x1='55.2' y1='268.9' x2='55.2' y2='440.2' stroke='#d0d0d0' stroke-width='0.6' />
<line x1='62.6' y1='268.9' x2='62.6' y2='440.2' stroke='#eed8d8' stroke-width='0.6' />
<line x1='69.3' y1='268.9' x2='69.3' y2='440.2' stroke='#d8d8d8' stroke-width='0.6' />
<text x='31.5' y='266.6' font-size='3.4' text-anchor='middle' font-weight='normal' font-style='normal' font-family='"Liberation Sans", sans-serif' fill='#808080' >-16.0</text>
<text x='36.5' y='266.6' font-size='3.4' text-anchor='middle' font-weight='normal' font-style='normal' font-family='"Liberation Sans", sans-serif' fill='#808080' >-4.0</text>
<text x='45.5' y='266.6' font-size='3.4' text-anchor='middle' font-weight='normal' font-style='normal' font-family='"Liberation Sans", sans-serif' fill='#808080' >-2.0</text>
<text x='55.2' y='266.6' font-size='3.4' text-anchor='middle' font-weight='normal' font-style='normal' font-family='"Liberation Sans", sans-serif' fill='#808080' >0</text>
<text x='63.9' y='266.6' font-size='3.4' text-anchor='middle' font-weight='normal' font-style='normal' font-family='"Liberation Sans", sans-serif' fill='#808080' >+2.0</text>
<text x='70.6' y='266.6' font-size='3.4' text-anchor='middle' font-weight='normal' font-style='normal' font-family='"Liberation Sans", sans-serif' fill='#808080' >+4.0</text>
<text x='77.4' y='266.6' font-size='3.4' text-anchor='middle' font-weight='normal' font-style='normal' font-family='"Liberation Sans", sans-serif' fill='#808080' >+16</text>
<polyline points='54.55,271.10 54.73,271.50 55.35,271.90 55.02,272.30 54.45,272.70 53.19,273.10 53.02,273.50 53.82,273.90 54.44,274.30 55.91,274.70 57.48,275.10 57.71,275.50 56.77,275.90 56.85,276.30 58.39,276.70 59.24,277.10 59.34,277.50 57.67,277.90 56.46,278.30 55.61,278.70 55.10,279.10 54.69,279.50 54.59,279.90 55.23,280.30 54.83,280.70 53.70,281.10 53.04,281.50 53.79,281.90 55.69,282.30 56.35,282.70 56.09,283.10 54.69,283.50 54.04,283.90 54.45,284.30 55.66,284.70 56.51,285.10 56.51,285.50 55.98,285.90 54.49,286.30 54.12,286.70 54.98,287.10 55.52,287.50 54.97,287.90 54.89,288.30 55.72,288.70 56.69,289.10 56.61,289.50 56.03,289.90 56.46,290.30 56.19,290.70 55.41,291.10 54.48,291.50 53.19,291.90 51.88,292.30 51.56,292.70 52.14,293.10 53.06,293.50 53.60,293.90 54.18,294.30 55.01,294.70 56.34,295.10 57.98,295.50 58.03,295.90 57.35,296.30 56.88,296.70 57.57,297.10 58.46,297.50 57.59,297.90 55.31,298.30 55.58,298.70 57.70,299.10 59.17,299.50 58.34,299.90 56.61,300.30 55.13,300.70 54.59,301.10 53.49,301.50 53.26,301.90 53.55,302.30 53.65,302.70 52.87,303.10 52.73,303.50 53.79,303.90 55.68,304.30 56.34,304.70 55.86,305.10 54.75,305.50 54.32,305.90 55.49,306.30 56.40,306.70 56.32,307.10 55.60,307.50 55.63,307.90 56.35,308.30 55.92,308.70 55.55,309.10 55.23,309.50 55.04,309.90 54.73,310.30 53.94,310.70 53.72,311.10 54.06,311.50 54.16,311.90 53.76,312.30 53.19,312.70 52.92,313.10 53.38,313.50 52.48,313.90 48.18,314.30 45.45,314.70 46.05,315.10 46.77,315.50 45.93,315.90 45.92,316.30 47.93,316.70 50.67,317.10 53.51,317.50 55.47,317.90 56.18,318.30 55.89,318.70 54.50,319.10 53.62,319.50 53.93,319.90 54.51,320.30 54.42,320.70 53.37,321.10 52.75,321.50 53.18,321.90 53.87,322.30 53.26,322.70 53.34,323.10 53.10,323.50 52.41,323.90 53.22,324.30 55.68,324.70 58.59,325.10 58.76,325.50 58.48,325.90 56.06,326.30 54.31,326.70 54.68,327.10 55.77,327.50 57.49,327.90 57.84,328.30 56.44,328.70 56.10,329.10 55.97,329.50 55.66,329.90 55.73,330.30 55.53,330.70 54.47,331.10 53.39,331.50 54.69,331.90 57.02,332.30 57.34,332.70 56.75,333.10 57.14,333.50 57.33,333.90 57.15,334.30 56.25,334.70' fill='none' stroke='#3446c8' stroke-width='0.7' stroke-linejoin='round' opacity='0.95'/>
<polyline points='55.62,271.10 54.79,271.50 54.24,271.90 54.76,272.30 56.34,272.70 57.12,273.10 57.03,273.50 56.88,273.90 56.46,274.30 55.65,274.70 55.66,275.10 56.05,275.50 57.26,275.90 57.42,276.30 55.35,276.70 53.10,277.10 53.02,277.50 54.10,277.90 55.43,278.30 56.18,278.70 55.81,279.10 54.84,279.50 54.62,279.90 55.11,280.30 55.45,280.70 55.24,281.10 56.22,281.50 56.66,281.90 55.74,282.30 53.98,282.70 52.90,283.10 53.16,283.50 54.43,283.90 55.56,284.30 55.63,284.70 54.77,285.10 55.37,285.50 56.59,285.90 56.09,286.30 55.43,286.70 55.20,287.10 54.86,287.50 54.19,287.90 54.55,288.30 54.70,288.70 53.69,289.10 53.44,289.50 54.49,289.90 55.60,290.30 55.28,290.70 54.25,291.10 54.04,291.50 55.56,291.90 56.80,292.30 56.87,292.70 56.65,293.10 54.65,293.50 52.77,293.90 52.54,294.30 53.36,294.70 53.62,295.10 53.18,295.50 52.54,295.90 53.48,296.30 54.54,296.70 54.08,297.10 53.06,297.50 54.01,297.90 56.66,298.30 57.70,298.70 55.37,299.10 53.08,299.50 52.88,299.90 53.64,300.30 53.56,300.70 54.64,301.10 56.20,301.50 56.42,301.90 55.32,302.30 55.73,302.70 56.42,303.10 56.87,303.50 57.21,303.90 56.86,304.30 56.40,304.70 56.74,305.10 58.15,305.50 57.44,305.90 54.81,306.30 54.22,306.70 54.71,307.10 54.57,307.50 54.44,307.90 55.66,308.30 56.78,308.70 56.92,309.10 57.21,309.50 56.71,309.90 55.09,310.30 54.60,310.70 55.25,311.10 55.41,311.50 54.35,311.90 53.30,312.30 53.35,312.70 53.76,313.10 53.82,313.50 55.69,313.90 59.86,314.30 62.66,314.70 62.27,315.10 61.78,315.50 61.91,315.90 62.64,316.30 60.50,316.70 56.17,317.10 53.85,317.50 53.60,317.90 53.86,318.30 55.03,318.70 57.37,319.10 58.11,319.50 57.73,319.90 57.12,320.30 56.69,320.70 55.66,321.10 54.88,321.50 55.15,321.90 55.83,322.30 55.52,322.70 55.66,323.10 56.69,323.50 57.21,323.90 57.10,324.30 56.36,324.70 52.68,325.10 52.23,325.50 53.53,325.90 55.33,326.30 56.68,326.70 56.55,327.10 55.00,327.50 53.54,327.90 54.69,328.30 56.81,328.70 56.96,329.10 56.12,329.50 55.67,329.90 55.66,330.30 56.34,330.70 56.61,331.10 56.07,331.50 55.35,331.90 55.14,332.30 55.63,332.70 53.92,333.10 52.21,333.50 52.74,333.90 55.16,334.30 56.29,334.70' fill='none' stroke='#d01c40' stroke-width='0.7' stroke-linejoin='round' opacity='0.85'/>
<polyline points='55.09,271.10 54.76,271.50 54.79,271.90 54.89,272.30 55.39,272.70 55.16,273.10 55.02,273.50 55.35,273.90 55.45,274.30 55.78,274.70 56.57,275.10 56.88,275.50 57.02,275.90 57.14,276.30 56.87,276.70 56.17,277.10 56.18,277.50 55.88,277.90 55.95,278.30 55.89,278.70 55.46,279.10 54.76,279.50 54.61,279.90 55.17,280.30 55.14,280.70 54.47,281.10 54.63,281.50 55.23,281.90 55.71,282.30 55.16,282.70 54.50,283.10 53.92,283.50 54.23,283.90 55.00,284.30 55.65,284.70 55.64,285.10 55.94,285.50 56.29,285.90 55.29,286.30 54.78,286.70 55.09,287.10 55.19,287.50 54.58,287.90 54.72,288.30 55.21,288.70 55.19,289.10 55.02,289.50 55.26,289.90 56.03,290.30 55.73,290.70 54.83,291.10 54.26,291.50 54.37,291.90 54.34,292.30 54.21,292.70 54.40,293.10 53.86,293.50 53.18,293.90 53.36,294.30 54.19,294.70 54.98,295.10 55.58,295.50 55.29,295.90 55.42,296.30 55.71,296.70 55.82,297.10 55.76,297.50 55.80,297.90 55.99,298.30 56.64,298.70 56.54,299.10 56.13,299.50 55.61,299.90 55.13,300.30 54.34,300.70 54.62,301.10 54.85,301.50 54.84,301.90 54.44,302.30 54.69,302.70 54.65,303.10 54.80,303.50 55.50,303.90 56.27,304.30 56.37,304.70 56.30,305.10 56.45,305.50 55.88,305.90 55.15,306.30 55.31,306.70 55.52,307.10 55.09,307.50 55.04,307.90 56.01,308.30 56.35,308.70 56.23,309.10 56.22,309.50 55.87,309.90 54.91,310.30 54.27,310.70 54.49,311.10 54.73,311.50 54.26,311.90 53.53,312.30 53.27,312.70 53.34,313.10 53.60,313.50 54.09,313.90 54.02,314.30 54.06,314.70 54.16,315.10 54.28,315.50 53.92,315.90 54.28,316.30 54.21,316.70 53.42,317.10 53.68,317.50 54.53,317.90 55.02,318.30 55.46,318.70 55.93,319.10 55.87,319.50 55.83,319.90 55.82,320.30 55.56,320.70 54.51,321.10 53.81,321.50 54.16,321.90 54.85,322.30 54.39,322.70 54.50,323.10 54.89,323.50 54.81,323.90 55.16,324.30 56.02,324.70 55.63,325.10 55.50,325.50 56.00,325.90 55.69,326.30 55.49,326.70 55.61,327.10 55.38,327.50 55.51,327.90 56.27,328.30 56.63,328.70 56.53,329.10 56.04,329.50 55.67,329.90 55.69,330.30 55.94,330.70 55.54,331.10 54.73,331.50 55.02,331.90 56.08,332.30 56.48,332.70 55.34,333.10 54.68,333.50 55.03,333.90 56.16,334.30 56.27,334.70' fill='none' stroke='#5a1444' stroke-width='0.8' stroke-linejoin='round' opacity='0.8'/>
<polyline points='55.03,342.10 55.04,342.50 54.10,342.90 53.76,343.30 54.74,343.70 54.99,344.10 54.01,344.50 53.29,344.90 52.94,345.30 53.41,345.70 54.15,346.10 55.18,346.50 56.04,346.90 56.15,347.30 55.46,347.70 54.85,348.10 55.19,348.50 55.17,348.90 54.91,349.30 54.67,349.70 54.59,350.10 54.75,350.50 55.06,350.90 55.04,351.30 55.08,351.70 55.30,352.10 55.50,352.50 55.66,352.90 55.66,353.30 55.36,353.70 55.23,354.10 55.18,354.50 55.22,354.90 55.56,355.30 55.58,355.70 54.67,356.10 54.16,356.50 54.86,356.90 55.68,357.30 56.54,357.70 56.90,358.10 56.91,358.50 56.27,358.90 55.81,359.30 56.15,359.70 57.22,360.10 57.26,360.50 55.70,360.90 55.14,361.30 56.02,361.70 56.37,362.10 55.66,362.50 54.65,362.90 54.38,363.30 54.43,363.70 53.95,364.10 53.47,364.50 53.28,364.90 53.03,365.30 53.37,365.70 54.42,366.10 55.30,366.50 55.86,366.90 56.06,367.30 55.41,367.70 54.83,368.10 54.82,368.50 54.70,368.90 54.02,369.30 53.24,369.70 53.24,370.10 53.69,370.50 53.74,370.90 53.43,371.30 53.54,371.70 53.96,372.10 54.29,372.50 54.41,372.90 55.07,373.30 55.46,373.70 54.92,374.10 53.94,374.50 53.50,374.90 53.52,375.30 53.68,375.70 54.19,376.10 54.53,376.50 54.70,376.90 54.69,377.30 54.81,377.70 54.95,378.10 55.23,378.50 55.69,378.90 55.68,379.30 55.81,379.70 55.90,380.10 56.15,380.50 55.95,380.90 55.41,381.30 55.59,381.70 56.11,382.10 56.00,382.50 55.35,382.90 54.23,383.30 53.91,383.70 54.83,384.10 55.64,384.50 55.86,384.90 55.19,385.30 54.01,385.70 52.26,386.10 52.19,386.50 52.36,386.90 52.94,387.30 55.44,387.70 57.14,388.10 57.23,388.50 56.78,388.90 55.78,389.30 54.78,389.70 54.73,390.10 54.89,390.50 54.80,390.90 55.18,391.30 55.73,391.70 56.21,392.10 56.61,392.50 56.52,392.90 55.92,393.30 54.82,393.70 53.87,394.10 54.24,394.50 55.04,394.90 55.64,395.30 55.50,395.70 55.71,396.10 55.55,396.50 55.00,396.90 54.56,397.30 54.12,397.70 54.29,398.10 54.91,398.50 55.56,398.90 56.05,399.30 56.38,399.70 56.41,400.10 56.14,400.50 56.00,400.90 56.02,401.30 55.96,401.70 56.10,402.10 56.07,402.50 55.42,402.90 54.63,403.30 54.73,403.70 54.96,404.10 54.84,404.50 54.81,404.90 54.80,405.30 54.70,405.70 55.22,406.10 55.52,406.50 55.67,406.90 55.89,407.30 56.04,407.70 55.79,408.10 55.58,408.50 55.42,408.90 55.32,409.30 54.93,409.70 54.41,410.10 54.09,410.50 54.53,410.90 55.42,411.30 55.85,411.70 56.30,412.10 56.57,412.50 56.24,412.90 54.85,413.30 54.11,413.70 54.13,414.10 54.32,414.50 54.37,414.90 54.39,415.30 54.65,415.70 55.15,416.10 55.68,416.50 56.16,416.90 56.21,417.30 55.53,417.70 54.62,418.10 54.24,418.50 54.02,418.90 54.51,419.30 54.99,419.70 55.08,420.10 55.37,420.50 55.52,420.90 55.02,421.30 54.77,421.70 54.45,422.10 54.16,422.50 53.76,422.90 53.93,423.30 54.53,423.70 54.48,424.10 54.61,424.50 54.78,424.90 54.77,425.30 54.96,425.70 55.09,426.10 54.40,426.50 53.62,426.90 54.24,427.30 54.76,427.70 54.06,428.10 53.70,428.50 54.17,428.90 54.25,429.30 54.27,429.70 54.17,430.10 54.21,430.50 54.45,430.90 54.95,431.30 55.09,431.70 55.18,432.10 55.15,432.50 54.25,432.90 53.68,433.30 54.55,433.70 56.00,434.10 56.21,434.50 55.46,434.90 55.09,435.30 55.25,435.70 55.50,436.10 55.72,436.50 56.17,436.90 56.61,437.30 56.51,437.70 55.80,438.10 54.75,438.50 54.56,438.90 55.32,439.30 56.05,439.70' fill='none' stroke='#3446c8' stroke-width='0.7' stroke-linejoin='round' opacity='0.95'/>
<polyline points='55.17,342.10 55.32,342.50 55.69,342.90 56.13,343.30 55.68,343.70 54.38,344.10 54.28,344.50 55.69,344.90 56.18,345.30 55.58,345.70 54.79,346.10 53.93,346.50 53.64,346.90 53.49,347.30 53.76,347.70 54.44,348.10 54.91,348.50 54.82,348.90 55.03,349.30 55.60,349.70 55.75,350.10 55.55,350.50 55.51,350.90 55.34,351.30 55.13,351.70 54.48,352.10 53.90,352.50 54.24,352.90 54.85,353.30 54.91,353.70 54.98,354.10 55.05,354.50 54.70,354.90 54.72,355.30 55.31,355.70 55.77,356.10 55.94,356.50 56.18,356.90 56.23,357.30 55.94,357.70 55.25,358.10 54.94,358.50 55.27,358.90 55.35,359.30 54.67,359.70 54.17,360.10 54.19,360.50 54.68,360.90 55.24,361.30 55.08,361.70 54.73,362.10 55.18,362.50 55.48,362.90 55.98,363.30 56.51,363.70 56.12,364.10 55.12,364.50 54.71,364.90 55.12,365.30 55.97,365.70 56.06,366.10 55.26,366.50 54.96,366.90 55.33,367.30 55.51,367.70 55.36,368.10 55.91,368.50 55.94,368.90 55.54,369.30 55.76,369.70 56.26,370.10 55.85,370.50 55.26,370.90 55.53,371.30 56.05,371.70 55.96,372.10 55.74,372.50 55.24,372.90 54.60,373.30 54.62,373.70 55.10,374.10 55.34,374.50 55.15,374.90 54.98,375.30 54.98,375.70 55.66,376.10 55.89,376.50 55.53,376.90 55.41,377.30 55.36,377.70 54.96,378.10 54.63,378.50 54.59,378.90 54.39,379.30 53.63,379.70 53.06,380.10 53.71,380.50 54.81,380.90 55.62,381.30 55.77,381.70 55.22,382.10 54.95,382.50 55.34,382.90 55.77,383.30 55.58,383.70 55.24,384.10 54.63,384.50 54.26,384.90 54.58,385.30 55.91,385.70 58.44,386.10 59.30,386.50 59.52,386.90 59.02,387.30 56.38,387.70 53.84,388.10 54.17,388.50 54.38,388.90 54.19,389.30 54.53,389.70 55.75,390.10 56.82,390.50 57.59,390.90 57.69,391.30 56.73,391.70 55.41,392.10 54.98,392.50 55.01,392.90 54.86,393.30 54.72,393.70 53.81,394.10 53.03,394.50 52.85,394.90 53.69,395.30 54.54,395.70 55.14,396.10 54.81,396.50 54.46,396.90 54.63,397.30 54.79,397.70 54.80,398.10 54.64,398.50 54.10,398.90 53.34,399.30 53.31,399.70 53.87,400.10 54.47,400.50 54.60,400.90 54.73,401.30 54.48,401.70 54.09,402.10 54.59,402.50 55.05,402.90 54.88,403.30 54.79,403.70 54.29,404.10 53.91,404.50 54.62,404.90 55.56,405.30 55.56,405.70 55.09,406.10 54.18,406.50 53.94,406.90 54.25,407.30 54.47,407.70 54.30,408.10 54.63,408.50 55.14,408.90 55.37,409.30 55.84,409.70 55.96,410.10 56.13,410.50 56.34,410.90 57.01,411.30 56.88,411.70 55.70,412.10 55.03,412.50 55.47,412.90 56.45,413.30 56.98,413.70 57.28,414.10 56.89,414.50 56.41,414.90 56.23,415.30 55.75,415.70 55.58,416.10 55.28,416.50 55.60,416.90 55.62,417.30 55.02,417.70 54.91,418.10 55.42,418.50 55.73,418.90 55.67,419.30 55.89,419.70 55.91,420.10 55.42,420.50 55.24,420.90 55.50,421.30 55.49,421.70 55.06,422.10 55.41,422.50 55.88,422.90 55.89,423.30 55.05,423.70 54.71,424.10 55.17,424.50 55.60,424.90 55.38,425.30 55.03,425.70 55.19,426.10 55.19,426.50 55.56,426.90 56.02,427.30 55.59,427.70 54.48,428.10 54.44,428.50 55.37,428.90 56.05,429.30 56.28,429.70 55.98,430.10 55.78,430.50 56.24,430.90 56.13,431.30 55.13,431.70 54.29,432.10 54.14,432.50 54.68,432.90 55.24,433.30 55.18,433.70 53.94,434.10 53.60,434.50 54.11,434.90 54.84,435.30 54.90,435.70 54.54,436.10 54.44,436.50 54.54,436.90 54.58,437.30 54.40,437.70 54.19,438.10 54.16,438.50 54.91,438.90 55.36,439.30 55.56,439.70' fill='none' stroke='#d01c40' stroke-width='0.7' stroke-linejoin='round' opacity='0.85'/>
<polyline points='55.10,342.10 55.18,342.50 54.90,342.90 54.94,343.30 55.21,343.70 54.69,344.10 54.14,344.50 54.49,344.90 54.56,345.30 54.50,345.70 54.47,346.10 54.55,346.50 54.84,346.90 54.82,347.30 54.61,347.70 54.64,348.10 55.05,348.50 55.00,348.90 54.97,349.30 55.14,349.70 55.17,350.10 55.15,350.50 55.29,350.90 55.19,351.30 55.11,351.70 54.89,352.10 54.70,352.50 54.95,352.90 55.25,353.30 55.14,353.70 55.11,354.10 55.11,354.50 54.96,354.90 55.14,355.30 55.44,355.70 55.22,356.10 55.05,356.50 55.52,356.90 55.96,357.30 56.24,357.70 56.08,358.10 55.92,358.50 55.77,358.90 55.58,359.30 55.41,359.70 55.69,360.10 55.72,360.50 55.19,360.90 55.19,361.30 55.55,361.70 55.55,362.10 55.42,362.50 55.07,362.90 55.18,363.30 55.47,363.70 55.04,364.10 54.30,364.50 53.99,364.90 54.08,365.30 54.67,365.70 55.24,366.10 55.28,366.50 55.41,366.90 55.69,367.30 55.46,367.70 55.10,368.10 55.36,368.50 55.32,368.90 54.78,369.30 54.50,369.70 54.75,370.10 54.77,370.50 54.50,370.90 54.48,371.30 54.80,371.70 54.96,372.10 55.02,372.50 54.83,372.90 54.83,373.30 55.04,373.70 55.01,374.10 54.64,374.50 54.32,374.90 54.25,375.30 54.33,375.70 54.92,376.10 55.21,376.50 55.12,376.90 55.05,377.30 55.08,377.70 54.95,378.10 54.93,378.50 55.14,378.90 55.04,379.30 54.72,379.70 54.48,380.10 54.93,380.50 55.38,380.90 55.52,381.30 55.68,381.70 55.66,382.10 55.48,382.50 55.34,382.90 55.00,383.30 54.74,383.70 55.04,384.10 55.14,384.50 55.06,384.90 54.89,385.30 54.96,385.70 55.35,386.10 55.75,386.50 55.94,386.90 55.98,387.30 55.91,387.70 55.49,388.10 55.70,388.50 55.58,388.90 54.99,389.30 54.65,389.70 55.24,390.10 55.86,390.50 56.20,390.90 56.44,391.30 56.23,391.70 55.81,392.10 55.80,392.50 55.76,392.90 55.39,393.30 54.77,393.70 53.84,394.10 53.64,394.50 53.95,394.90 54.67,395.30 55.02,395.70 55.42,396.10 55.18,396.50 54.73,396.90 54.59,397.30 54.46,397.70 54.55,398.10 54.77,398.50 54.83,398.90 54.69,399.30 54.84,399.70 55.14,400.10 55.30,400.50 55.30,400.90 55.38,401.30 55.22,401.70 55.10,402.10 55.33,402.50 55.23,402.90 54.76,403.30 54.76,403.70 54.62,404.10 54.37,404.50 54.71,404.90 55.18,405.30 55.13,405.70 55.15,406.10 54.85,406.50 54.80,406.90 55.07,407.30 55.25,407.70 55.04,408.10 55.11,408.50 55.28,408.90 55.35,409.30 55.39,409.70 55.18,410.10 55.11,410.50 55.43,410.90 56.21,411.30 56.37,411.70 56.00,412.10 55.80,412.50 55.85,412.90 55.65,413.30 55.54,413.70 55.70,414.10 55.61,414.50 55.39,414.90 55.31,415.30 55.20,415.70 55.36,416.10 55.48,416.50 55.88,416.90 55.91,417.30 55.27,417.70 54.76,418.10 54.83,418.50 54.88,418.90 55.09,419.30 55.44,419.70 55.49,420.10 55.39,420.50 55.38,420.90 55.26,421.30 55.13,421.70 54.76,422.10 54.78,422.50 54.82,422.90 54.91,423.30 54.79,423.70 54.59,424.10 54.89,424.50 55.19,424.90 55.07,425.30 55.00,425.70 55.14,426.10 54.79,426.50 54.59,426.90 55.13,427.30 55.17,427.70 54.27,428.10 54.07,428.50 54.77,428.90 55.15,429.30 55.27,429.70 55.07,430.10 54.99,430.50 55.34,430.90 55.54,431.30 55.11,431.70 54.74,432.10 54.64,432.50 54.46,432.90 54.46,433.30 54.86,433.70 54.97,434.10 54.91,434.50 54.78,434.90 54.97,435.30 55.08,435.70 55.02,436.10 55.08,436.50 55.35,436.90 55.59,437.30 55.46,437.70 55.00,438.10 54.45,438.50 54.73,438.90 55.34,439.30 55.80,439.70' fill='none' stroke='#5a1444' stroke-width='0.8' stroke-linejoin='round' opacity='0.8'/>
<line x1='36.2' y1='314.2' x2='36.2' y2='316.6' stroke='#4060d8' stroke-width='0.7' />
<line x1='72.3' y1='314.2' x2='72.3' y2='316.6' stroke='#e03040' stroke-width='0.7' />
<text x='3.9' y='284.0' font-size='4.5' text-anchor='start' font-weight='bold' font-style='normal' font-family='"Liberation Sans", sans-serif' fill='#111' >p15.4</text>
<text x='3.9' y='291.5' font-size='4.5' text-anchor='start' font-weight='bold' font-style='normal' font-family='"Liberation Sans", sans-serif' fill='#111' >p15.2</text>
<text x='3.9' y='304.0' font-size='4.5' text-anchor='start' font-weight='bold' font-style='normal' font-family='"Liberation Sans", sans-serif' fill='#111' >p14.3</text>
<text x='3.9' y='310.3' font-size='4.5' text-anchor='start' font-weight='bold' font-style='normal' font-family='"Liberation Sans", sans-serif' fill='#111' >p14.1</text>
<text x='3.9' y='327.3' font-size='4.5' text-anchor='start' font-weight='bold' font-style='normal' font-family='"Liberation Sans", sans-serif' fill='#111' >p12</text>
<text x='3.9' y='336.3' font-size='4.5' text-anchor='start' font-weight='bold' font-style='normal' font-family='"Liberation Sans", sans-serif' fill='#111' >p11.12</text>
<text x='3.9' y='346.5' font-size='4.5' text-anchor='start' font-weight='bold' font-style='normal' font-family='"Liberation Sans", sans-serif' fill='#111' >q12.1</text>
<text x='3.9' y='351.0' font-size='4.5' text-anchor='start' font-weight='bold' font-style='normal' font-family='"Liberation Sans", sans-serif' fill='#111' >q12.3</text>
<text x='3.9' y='357.7' font-size='4.5' text-anchor='start' font-weight='bold' font-style='normal' font-family='"Liberation Sans", sans-serif' fill='#111' >q13.2</text>
<text x='3.9' y='366.5' font-size='4.5' text-anchor='start' font-weight='bold' font-style='normal' font-family='"Liberation Sans", sans-serif' fill='#111' >q13.4</text>
<text x='3.9' y='379.5' font-size='4.5' text-anchor='start' font-weight='bold' font-style='normal' font-family='"Liberation Sans", sans-serif' fill='#111' >q14.1</text>
<text x='3.9' y='388.5' font-size='4.5' text-anchor='start' font-weight='bold' font-style='normal' font-family='"Liberation Sans", sans-serif' fill='#111' >q14.3</text>
<text x='3.9' y='399.5' font-size='4.5' text-anchor='start' font-weight='bold' font-style='normal' font-family='"Liberation Sans", sans-serif' fill='#111' >q22.1</text>
<text x='3.9' y='411.5' font-size='4.5' text-anchor='start' font-weight='bold' font-style='normal' font-family='"Liberation Sans", sans-serif' fill='#111' >q22.3</text>
<text x='3.9' y='416.5' font-size='4.5' text-anchor='start' font-weight='bold' font-style='normal' font-family='"Liberation Sans", sans-serif' fill='#111' >q23.2</text>
<text x='3.9' y='427.7' font-size='4.5' text-anchor='start' font-weight='bold' font-style='normal' font-family='"Liberation Sans", sans-serif' fill='#111' >q24.1</text>
<text x='3.9' y='436.5' font-size='4.5' text-anchor='start' font-weight='bold' font-style='normal' font-family='"Liberation Sans", sans-serif' fill='#111' >q24.3</text>
<line x1='92' y1='41.3' x2='92' y2='211' stroke='#c6c6c6' stroke-width='0.6' />
<line x1='98.8' y1='41.3' x2='98.8' y2='211' stroke='#e0e0e0' stroke-width='0.6' />
<line x1='119' y1='41.3' x2='119' y2='211' stroke='#c6c6c6' stroke-width='0.6' />
<line x1='153.3' y1='41.3' x2='153.3' y2='211' stroke='#c6c6c6' stroke-width='0.6' />
<line x1='191' y1='41.3' x2='191' y2='211' stroke='#c6c6c6' stroke-width='0.6' />
<line x1='228.6' y1='41.3' x2='228.6' y2='211' stroke='#c6c6c6' stroke-width='0.6' />
<line x1='262.3' y1='41.3' x2='262.3' y2='211' stroke='#c6c6c6' stroke-width='0.6' />
<line x1='282.3' y1='41.3' x2='282.3' y2='211' stroke='#e0e0e0' stroke-width='0.7' />
<line x1='289.8' y1='41.3' x2='289.8' y2='211' stroke='#c6c6c6' stroke-width='0.6' />
<text x='90.5' y='39' font-size='3.4' text-anchor='middle' font-weight='normal' font-style='normal' font-family='"Liberation Sans", sans-serif' fill='#808080' >-16.0</text>
<text x='118.5' y='39' font-size='3.4' text-anchor='middle' font-weight='normal' font-style='normal' font-family='"Liberation Sans", sans-serif' fill='#808080' >-4.0</text>
<text x='153' y='39' font-size='3.4' text-anchor='middle' font-weight='normal' font-style='normal' font-family='"Liberation Sans", sans-serif' fill='#808080' >-2.0</text>
<text x='191' y='39' font-size='3.4' text-anchor='middle' font-weight='normal' font-style='normal' font-family='"Liberation Sans", sans-serif' fill='#808080' >0</text>
<text x='228.5' y='39' font-size='3.4' text-anchor='middle' font-weight='normal' font-style='normal' font-family='"Liberation Sans", sans-serif' fill='#808080' >+2.0</text>
<text x='263.2' y='39' font-size='3.4' text-anchor='middle' font-weight='normal' font-style='normal' font-family='"Liberation Sans", sans-serif' fill='#808080' >+4.0</text>
<text x='291.5' y='39' font-size='3.4' text-anchor='middle' font-weight='normal' font-style='normal' font-family='"Liberation Sans", sans-serif' fill='#808080' >+16</text>
<line x1='311.7' y1='41.3' x2='311.7' y2='211' stroke='#c6c6c6' stroke-width='0.6' />
<line x1='318.5' y1='41.3' x2='318.5' y2='211' stroke='#e0e0e0' stroke-width='0.6' />
<line x1='339' y1='41.3' x2='339' y2='211' stroke='#c6c6c6' stroke-width='0.6' />
<line x1='373' y1='41.3' x2='373' y2='211' stroke='#c6c6c6' stroke-width='0.6' />
<line x1='410.5' y1='41.3' x2='410.5' y2='211' stroke='#c6c6c6' stroke-width='0.6' />
<line x1='448' y1='41.3' x2='448' y2='211' stroke='#c6c6c6' stroke-width='0.6' />
<line x1='482' y1='41.3' x2='482' y2='211' stroke='#c6c6c6' stroke-width='0.6' />
<line x1='502' y1='41.3' x2='502' y2='211' stroke='#e0e0e0' stroke-width='0.7' />
<line x1='510' y1='41.3' x2='510' y2='211' stroke='#c6c6c6' stroke-width='0.6' />
<text x='308.5' y='39' font-size='3.4' text-anchor='middle' font-weight='normal' font-style='normal' font-family='"Liberation Sans", sans-serif' fill='#808080' >-16.0</text>
<text x='337' y='39' font-size='3.4' text-anchor='middle' font-weight='normal' font-style='normal' font-family='"Liberation Sans", sans-serif' fill='#808080' >-4.0</text>
<text x='371.5' y='39' font-size='3.4' text-anchor='middle' font-weight='normal' font-style='normal' font-family='"Liberation Sans", sans-serif' fill='#808080' >-2.0</text>
<text x='410.5' y='39' font-size='3.4' text-anchor='middle' font-weight='normal' font-style='normal' font-family='"Liberation Sans", sans-serif' fill='#808080' >0</text>
<text x='448' y='39' font-size='3.4' text-anchor='middle' font-weight='normal' font-style='normal' font-family='"Liberation Sans", sans-serif' fill='#808080' >+2.0</text>
<text x='482' y='39' font-size='3.4' text-anchor='middle' font-weight='normal' font-style='normal' font-family='"Liberation Sans", sans-serif' fill='#808080' >+4.0</text>
<text x='511' y='39' font-size='3.4' text-anchor='middle' font-weight='normal' font-style='normal' font-family='"Liberation Sans", sans-serif' fill='#808080' >+16</text>
<line x1='92' y1='268.6' x2='92' y2='439' stroke='#c6c6c6' stroke-width='0.6' />
<line x1='98.8' y1='268.6' x2='98.8' y2='439' stroke='#e0e0e0' stroke-width='0.6' />
<line x1='119' y1='268.6' x2='119' y2='439' stroke='#c6c6c6' stroke-width='0.6' />
<line x1='153.3' y1='268.6' x2='153.3' y2='439' stroke='#c6c6c6' stroke-width='0.6' />
<line x1='191' y1='268.6' x2='191' y2='439' stroke='#c6c6c6' stroke-width='0.6' />
<line x1='228.6' y1='268.6' x2='228.6' y2='439' stroke='#c6c6c6' stroke-width='0.6' />
<line x1='262.3' y1='268.6' x2='262.3' y2='439' stroke='#c6c6c6' stroke-width='0.6' />
<line x1='282.3' y1='268.6' x2='282.3' y2='439' stroke='#e0e0e0' stroke-width='0.7' />
<line x1='289.8' y1='268.6' x2='289.8' y2='439' stroke='#c6c6c6' stroke-width='0.6' />
<text x='90.5' y='266.3' font-size='3.4' text-anchor='middle' font-weight='normal' font-style='normal' font-family='"Liberation Sans", sans-serif' fill='#808080' >-16.0</text>
<text x='118.5' y='266.3' font-size='3.4' text-anchor='middle' font-weight='normal' font-style='normal' font-family='"Liberation Sans", sans-serif' fill='#808080' >-4.0</text>
<text x='153' y='266.3' font-size='3.4' text-anchor='middle' font-weight='normal' font-style='normal' font-family='"Liberation Sans", sans-serif' fill='#808080' >-2.0</text>
<text x='191' y='266.3' font-size='3.4' text-anchor='middle' font-weight='normal' font-style='normal' font-family='"Liberation Sans", sans-serif' fill='#808080' >0</text>
<text x='228.5' y='266.3' font-size='3.4' text-anchor='middle' font-weight='normal' font-style='normal' font-family='"Liberation Sans", sans-serif' fill='#808080' >+2.0</text>
<text x='263.2' y='266.3' font-size='3.4' text-anchor='middle' font-weight='normal' font-style='normal' font-family='"Liberation Sans", sans-serif' fill='#808080' >+4.0</text>
<text x='291.5' y='266.3' font-size='3.4' text-anchor='middle' font-weight='normal' font-style='normal' font-family='"Liberation Sans", sans-serif' fill='#808080' >+16</text>
<line x1='311.7' y1='268.6' x2='311.7' y2='439' stroke='#c6c6c6' stroke-width='0.6' />
<line x1='318.5' y1='268.6' x2='318.5' y2='439' stroke='#e0e0e0' stroke-width='0.6' />
<line x1='339' y1='268.6' x2='339' y2='439' stroke='#c6c6c6' stroke-width='0.6' />
<line x1='373' y1='268.6' x2='373' y2='439' stroke='#c6c6c6' stroke-width='0.6' />
<line x1='410.5' y1='268.6' x2='410.5' y2='439' stroke='#c6c6c6' stroke-width='0.6' />
<line x1='448' y1='268.6' x2='448' y2='439' stroke='#c6c6c6' stroke-width='0.6' />
<line x1='482' y1='268.6' x2='482' y2='439' stroke='#c6c6c6' stroke-width='0.6' />
<line x1='502' y1='268.6' x2='502' y2='439' stroke='#e0e0e0' stroke-width='0.7' />
<line x1='510' y1='268.6' x2='510' y2='439' stroke='#c6c6c6' stroke-width='0.6' />
<text x='308.5' y='266.3' font-size='3.4' text-anchor='middle' font-weight='normal' font-style='normal' font-family='"Liberation Sans", sans-serif' fill='#808080' >-16.0</text>
<text x='337' y='266.3' font-size='3.4' text-anchor='middle' font-weight='normal' font-style='normal' font-family='"Liberation Sans", sans-serif' fill='#808080' >-4.0</text>
<text x='371.5' y='266.3' font-size='3.4' text-anchor='middle' font-weight='normal' font-style='normal' font-family='"Liberation Sans", sans-serif' fill='#808080' >-2.0</text>
<text x='410.5' y='266.3' font-size='3.4' text-anchor='middle' font-weight='normal' font-style='normal' font-family='"Liberation Sans", sans-serif' fill='#808080' >0</text>
<text x='448' y='266.3' font-size='3.4' text-anchor='middle' font-weight='normal' font-style='normal' font-family='"Liberation Sans", sans-serif' fill='#808080' >+2.0</text>
<text x='482' y='266.3' font-size='3.4' text-anchor='middle' font-weight='normal' font-style='normal' font-family='"Liberation Sans", sans-serif' fill='#808080' >+4.0</text>
<text x='511' y='266.3' font-size='3.4' text-anchor='middle' font-weight='normal' font-style='normal' font-family='"Liberation Sans", sans-serif' fill='#808080' >+16</text>
<line x1='92' y1='60.5' x2='92' y2='71.5' stroke='#5a5a5a' stroke-width='1.4' />
<text transform='translate(96.4,69.3) rotate(-45)' font-size='4.5' font-family='"Liberation Sans", sans-serif' fill='#6a6a6a'>LMO2</text>
<line x1='92' y1='125' x2='92' y2='140.8' stroke='#5a5a5a' stroke-width='1.4' />
<text transform='translate(96.4,138.6) rotate(-45)' font-size='4.5' font-family='"Liberation Sans", sans-serif' fill='#6a6a6a'>M11S1</text>
<line x1='118.8' y1='140.8' x2='118.8' y2='154.6' stroke='#5a5a5a' stroke-width='1.4' />
<text transform='translate(123.2,152.4) rotate(-45)' font-size='4.5' font-family='"Liberation Sans", sans-serif' fill='#6a6a6a'>FLJ10774</text>
<line x1='92' y1='156' x2='92' y2='210.7' stroke='#5a5a5a' stroke-width='1.4' />
<line x1='92' y1='273.6' x2='92' y2='289' stroke='#5a5a5a' stroke-width='1.4' />
<text transform='translate(96.4,286.8) rotate(-45)' font-size='4.5' font-family='"Liberation Sans", sans-serif' fill='#6a6a6a'>LMO2</text>
<line x1='92' y1='354.3' x2='92' y2='375' stroke='#5a5a5a' stroke-width='1.4' />
<text transform='translate(96.4,372.8) rotate(-45)' font-size='4.5' font-family='"Liberation Sans", sans-serif' fill='#6a6a6a'>M11S1</text>
<line x1='118.8' y1='377' x2='118.8' y2='392.5' stroke='#5a5a5a' stroke-width='1.4' />
<text transform='translate(123.2,390.3) rotate(-45)' font-size='4.5' font-family='"Liberation Sans", sans-serif' fill='#6a6a6a'>FLJ10774</text>
<line x1='92' y1='395.5' x2='92' y2='438' stroke='#5a5a5a' stroke-width='1.4' />
<line x1='311.8' y1='43' x2='311.8' y2='56.5' stroke='#5a5a5a' stroke-width='1.4' />
<text transform='translate(316.2,54.3) rotate(-45)' font-size='4.5' font-family='"Liberation Sans", sans-serif' fill='#6a6a6a'>FLJ1421</text>
<line x1='311.8' y1='65.6' x2='311.8' y2='75.3' stroke='#5a5a5a' stroke-width='1.4' />
<text transform='translate(316.2,73.1) rotate(-45)' font-size='4.5' font-family='"Liberation Sans", sans-serif' fill='#6a6a6a'>TRAF6</text>
<line x1='311.8' y1='97.4' x2='311.8' y2='104.1' stroke='#5a5a5a' stroke-width='1.4' />
<text transform='translate(316.2,101.9) rotate(-45)' font-size='4.5' font-family='"Liberation Sans", sans-serif' fill='#6a6a6a'>RAG1</text>
<line x1='338.3' y1='108.2' x2='338.3' y2='112' stroke='#5a5a5a' stroke-width='1.4' />
<text transform='translate(342.7,109.8) rotate(-45)' font-size='4.5' font-family='"Liberation Sans", sans-serif' fill='#6a6a6a'>RAG2</text>
<line x1='364' y1='108.8' x2='364' y2='136.8' stroke='#5a5a5a' stroke-width='1.4' />
<text transform='translate(368.4,134.6) rotate(-45)' font-size='4.5' font-family='"Liberation Sans", sans-serif' fill='#6a6a6a'>LOC119710</text>
<line x1='312' y1='271.3' x2='312' y2='292.5' stroke='#5a5a5a' stroke-width='1.4' />
<text transform='translate(316.4,290.3) rotate(-45)' font-size='4.5' font-family='"Liberation Sans", sans-serif' fill='#6a6a6a'>LOC143458</text>
<line x1='312' y1='314.5' x2='312' y2='318.8' stroke='#5a5a5a' stroke-width='1.4' />
<text transform='translate(316.4,316.6) rotate(-45)' font-size='4.5' font-family='"Liberation Sans", sans-serif' fill='#6a6a6a'>FLJ32972</text>
<line x1='338' y1='318' x2='338' y2='328.8' stroke='#5a5a5a' stroke-width='1.4' />
<text transform='translate(342.4,326.6) rotate(-45)' font-size='4.5' font-family='"Liberation Sans", sans-serif' fill='#6a6a6a'>SDA0808</text>
<line x1='312' y1='381.3' x2='312' y2='438.3' stroke='#5a5a5a' stroke-width='1.4' />
<text transform='translate(316.4,436.1) rotate(-45)' font-size='4.5' font-family='"Liberation Sans", sans-serif' fill='#6a6a6a'>FLJ14213</text>
<polyline points='191.10,54.70 193.30,57.30' fill='none' stroke='#3a4a3a' stroke-width='0.7' stroke-linejoin='round' />
<polyline points='193.30,57.30 197.30,59.60' fill='none' stroke='#d81c28' stroke-width='0.7' stroke-linejoin='round' />
<polyline points='191.50,60.30 174.30,69.00 160.50,123.50 148.00,132.00 158.40,148.40 171.50,155.30 169.80,171.20 164.00,196.80 137.60,205.80 145.60,210.70' fill='none' stroke='#5260c8' stroke-width='0.75' stroke-linejoin='round' />
<polyline points='197.50,59.90 191.50,60.00 171.80,67.60 219.80,123.50' fill='none' stroke='#b03040' stroke-width='0.75' stroke-linejoin='round' />
<polyline points='219.80,123.50 211.30,132.00 224.10,148.40 229.30,155.30 222.40,171.20 246.60,196.20 226.20,205.80 223.50,210.70' fill='none' stroke='#d81c28' stroke-width='0.75' stroke-linejoin='round' />
<circle cx='160.50' cy='123.50' r='1.3' fill='#1e5444'/>
<circle cx='148.00' cy='132.00' r='1.3' fill='#1e5444'/>
<circle cx='158.40' cy='148.40' r='1.3' fill='#1e5444'/>
<circle cx='171.50' cy='155.30' r='1.3' fill='#1e5444'/>
<circle cx='169.80' cy='171.20' r='1.3' fill='#1e5444'/>
<circle cx='164.00' cy='196.80' r='1.3' fill='#1e5444'/>
<circle cx='137.60' cy='205.80' r='1.3' fill='#1e5444'/>
<circle cx='219.80' cy='123.50' r='1.3' fill='#d81c28'/>
<circle cx='211.30' cy='132.00' r='1.3' fill='#d81c28'/>
<circle cx='224.10' cy='148.40' r='1.3' fill='#d81c28'/>
<circle cx='229.30' cy='155.30' r='1.3' fill='#d81c28'/>
<circle cx='222.40' cy='171.20' r='1.3' fill='#d81c28'/>
<circle cx='246.60' cy='196.20' r='1.3' fill='#d81c28'/>
<circle cx='226.20' cy='205.80' r='1.3' fill='#d81c28'/>
<circle cx='191.50' cy='59.90' r='1.3' fill='#d81c28'/>
<circle cx='197.50' cy='59.90' r='1.3' fill='#d81c28'/>
<circle cx='191.50' cy='67.50' r='1.3' fill='#d81c28'/>
<circle cx='197.60' cy='67.50' r='1.3' fill='#d81c28'/>
<circle cx='151.00' cy='67.50' r='1.3' fill='#1a7e2a'/>
<circle cx='154.00' cy='67.50' r='1.3' fill='#1a7e2a'/>
<polyline points='374.00,42.50 372.50,49.30 357.50,66.00 335.50,71.20 370.50,76.80 352.00,85.80 377.50,101.20 374.30,109.20 409.30,127.00 407.50,135.80 418.00,186.30 406.80,210.00' fill='none' stroke='#5260c8' stroke-width='0.75' stroke-linejoin='round' />
<polyline points='431.00,42.50 433.00,49.50 442.00,66.00 428.00,71.20 466.20,76.80 423.20,85.80 461.80,101.20 452.00,109.20 420.80,127.00 407.50,135.80 421.80,186.30 410.00,210.00' fill='none' stroke='#d81c28' stroke-width='0.75' stroke-linejoin='round' />
<circle cx='372.50' cy='49.30' r='1.3' fill='#1e5444'/>
<circle cx='357.50' cy='66.00' r='1.3' fill='#1e5444'/>
<circle cx='335.50' cy='71.20' r='1.3' fill='#1e5444'/>
<circle cx='370.50' cy='76.80' r='1.3' fill='#1e5444'/>
<circle cx='352.00' cy='85.80' r='1.3' fill='#1e5444'/>
<circle cx='377.50' cy='101.20' r='1.3' fill='#1e5444'/>
<circle cx='374.30' cy='109.20' r='1.3' fill='#1e5444'/>
<circle cx='409.30' cy='127.00' r='1.3' fill='#1e5444'/>
<circle cx='433.00' cy='49.50' r='1.3' fill='#d81c28'/>
<circle cx='442.00' cy='66.00' r='1.3' fill='#d81c28'/>
<circle cx='428.00' cy='71.20' r='1.3' fill='#d81c28'/>
<circle cx='466.20' cy='76.80' r='1.3' fill='#d81c28'/>
<circle cx='423.20' cy='85.80' r='1.3' fill='#d81c28'/>
<circle cx='461.80' cy='101.20' r='1.3' fill='#d81c28'/>
<circle cx='452.00' cy='109.20' r='1.3' fill='#d81c28'/>
<circle cx='420.80' cy='127.00' r='1.3' fill='#d81c28'/>
<circle cx='405.50' cy='135.80' r='1.3' fill='#4a8a2a'/>
<circle cx='408.00' cy='135.80' r='1.3' fill='#4a8a2a'/>
<circle cx='418.00' cy='186.30' r='1.3' fill='#d81c28'/>
<circle cx='421.80' cy='186.30' r='1.3' fill='#d81c28'/>
<polyline points='191.40,275.40 138.20,284.80 160.00,354.70 165.80,364.90 142.80,385.40 171.70,394.30 153.80,414.60 172.20,438.40' fill='none' stroke='#5260c8' stroke-width='0.75' stroke-linejoin='round' />
<polyline points='191.40,275.40 195.80,275.40 231.00,284.60 234.40,284.60' fill='none' stroke='#d81c28' stroke-width='0.75' stroke-linejoin='round' />
<polyline points='232.90,284.60 233.10,354.70' fill='none' stroke='#b82838' stroke-width='0.8' stroke-linejoin='round' />
<polyline points='233.10,354.70 214.40,364.90 229.80,385.40 215.70,394.30 231.60,414.60 215.20,438.40' fill='none' stroke='#d81c28' stroke-width='0.75' stroke-linejoin='round' />
<circle cx='160.00' cy='354.70' r='1.3' fill='#1e6444'/>
<circle cx='165.80' cy='364.90' r='1.3' fill='#1e6444'/>
<circle cx='142.80' cy='385.40' r='1.3' fill='#1e6444'/>
<circle cx='171.70' cy='394.30' r='1.3' fill='#1e6444'/>
<circle cx='153.80' cy='414.60' r='1.3' fill='#1e6444'/>
<circle cx='195.80' cy='275.40' r='1.3' fill='#d81c28'/>
<circle cx='231.00' cy='284.60' r='1.3' fill='#d81c28'/>
<circle cx='234.40' cy='284.60' r='1.3' fill='#d81c28'/>
<circle cx='233.10' cy='354.70' r='1.3' fill='#d81c28'/>
<circle cx='214.40' cy='364.90' r='1.3' fill='#d81c28'/>
<circle cx='229.80' cy='385.40' r='1.3' fill='#d81c28'/>
<circle cx='215.70' cy='394.30' r='1.3' fill='#d81c28'/>
<circle cx='231.60' cy='414.60' r='1.3' fill='#d81c28'/>
<circle cx='191.60' cy='275.40' r='1.3' fill='#d81c28'/>
<circle cx='129.00' cy='284.20' r='1.3' fill='#1a7e2a'/>
<circle cx='146.60' cy='284.20' r='1.3' fill='#1a7e2a'/>
<polyline points='354.50,271.30 348.00,292.50 392.50,327.50 393.80,343.50 377.00,385.50 371.50,396.30 348.30,411.80 405.80,428.80 411.30,428.80' fill='none' stroke='#5260c8' stroke-width='0.75' stroke-linejoin='round' />
<polyline points='466.30,271.30 470.00,292.50 469.50,327.50 423.20,343.50 449.30,385.50 448.00,396.50 477.00,411.80 411.30,428.80' fill='none' stroke='#d81c28' stroke-width='0.75' stroke-linejoin='round' />
<circle cx='348.00' cy='292.50' r='1.3' fill='#1e5444'/>
<circle cx='392.50' cy='327.50' r='1.3' fill='#1e5444'/>
<circle cx='393.80' cy='343.50' r='1.3' fill='#1e5444'/>
<circle cx='377.00' cy='385.50' r='1.3' fill='#1e5444'/>
<circle cx='371.50' cy='396.30' r='1.3' fill='#1e5444'/>
<circle cx='348.30' cy='411.80' r='1.3' fill='#1e5444'/>
<circle cx='405.80' cy='428.80' r='1.3' fill='#20a090'/>
<circle cx='470.00' cy='292.50' r='1.3' fill='#d81c28'/>
<circle cx='469.50' cy='327.50' r='1.3' fill='#d81c28'/>
<circle cx='423.20' cy='343.50' r='1.3' fill='#d81c28'/>
<circle cx='449.30' cy='385.50' r='1.3' fill='#d81c28'/>
<circle cx='448.00' cy='396.50' r='1.3' fill='#d81c28'/>
<circle cx='477.00' cy='411.80' r='1.3' fill='#d81c28'/>
<circle cx='411.30' cy='428.80' r='1.3' fill='#d81c28'/>
<text x='156.7' y='460.8' font-size='11.5' text-anchor='middle' font-weight='bold' font-style='normal' font-family='"Liberation Serif", serif' fill='#000'  stroke='#000' stroke-width='0.3'>Telomeric breakpoint</text>
<line x1='103.8' y1='467.4' x2='210.2' y2='467.4' stroke='#000' stroke-width='0.9' />
<text x='419' y='460.8' font-size='11.5' text-anchor='middle' font-weight='bold' font-style='normal' font-family='"Liberation Serif", serif' fill='#000'  stroke='#000' stroke-width='0.3'>Centromeric breakpoint</text>
<line x1='359.7' y1='467.4' x2='479.2' y2='467.4' stroke='#000' stroke-width='0.9' />
<rect x='286.30' y='449.20' width='2.50' height='294.00' fill='#000' />
<line x1='136' y1='496.25' x2='119.9' y2='496.25' stroke='#000' stroke-width='1.15' />
<path d='M116.9,496.25 L122.5,493.95 L122.5,498.55 Z' fill='#000'/>
<text x='125.5' y='506' font-size='8.7' text-anchor='middle' font-weight='bold' font-style='italic' font-family='"Liberation Serif", serif' fill='#000'  stroke='#000' stroke-width='0.3'>LMO2</text>
<line x1='67' y1='515.7' x2='174' y2='515.7' stroke='#111' stroke-width='1.0' />
<rect x='66.20' y='513.20' width='9.80' height='5.10' fill='#000' />
<rect x='85.70' y='513.20' width='9.80' height='5.10' fill='#000' />
<rect x='104.85' y='513.20' width='9.80' height='5.10' fill='#000' />
<rect x='125.00' y='513.20' width='9.80' height='5.10' fill='#000' />
<rect x='145.20' y='513.20' width='9.80' height='5.10' fill='#000' />
<rect x='165.20' y='513.20' width='9.80' height='5.10' fill='#000' />
<line x1='69.4' y1='547.2' x2='69.4' y2='519.4' stroke='#000' stroke-width='0.8' />
<path d='M69.40,520.40 L70.75,524.00 L68.05,524.00 Z' fill='#000'/>
<line x1='127.4' y1='547.2' x2='136.5' y2='518.2' stroke='#000' stroke-width='0.8' />
<path d='M136.50,519.20 L136.67,523.04 L134.10,522.21 Z' fill='#000'/>
<line x1='145.4' y1='547.2' x2='142.25' y2='518.2' stroke='#000' stroke-width='0.8' />
<path d='M142.25,519.20 L143.99,522.63 L141.31,522.93 Z' fill='#000'/>
<line x1='65.7' y1='553.2' x2='74.8' y2='553.2' stroke='#000' stroke-width='1.6' />
<line x1='121.1' y1='553.2' x2='130.2' y2='553.2' stroke='#000' stroke-width='1.6' />
<line x1='141.2' y1='553.2' x2='150.8' y2='553.2' stroke='#000' stroke-width='1.6' />
<line x1='185.6' y1='491.25' x2='203.25' y2='491.25' stroke='#000' stroke-width='1.15' />
<path d='M206.25,491.25 L200.65,488.95 L200.65,493.55 Z' fill='#000'/>
<text x='195.5' y='501.2' font-size='8.7' text-anchor='middle' font-weight='bold' font-style='italic' font-family='"Liberation Serif", serif' fill='#000'  stroke='#000' stroke-width='0.3'>M11S1</text>
<rect x='183.50' y='504.50' width='40.90' height='4.60' fill='#000' />
<line x1='194.4' y1='547.2' x2='194.4' y2='510.2' stroke='#000' stroke-width='0.8' />
<path d='M194.40,511.20 L195.75,514.80 L193.05,514.80 Z' fill='#000'/>
<line x1='220' y1='547.2' x2='220' y2='510.2' stroke='#000' stroke-width='0.8' />
<path d='M220.00,511.20 L221.35,514.80 L218.65,514.80 Z' fill='#000'/>
<line x1='189.7' y1='553.2' x2='199.3' y2='553.2' stroke='#000' stroke-width='1.6' />
<line x1='215' y1='553.2' x2='224.6' y2='553.2' stroke='#000' stroke-width='1.6' />
<text x='257.9' y='511.7' font-size='8.7' text-anchor='middle' font-weight='bold' font-style='italic' font-family='"Liberation Serif", serif' fill='#000'  stroke='#000' stroke-width='0.3'>FLJ10774</text>
<rect x='237.90' y='514.30' width='41.10' height='4.50' fill='#000' />
<line x1='262.5' y1='547.2' x2='262.5' y2='519.6' stroke='#000' stroke-width='0.8' />
<path d='M262.50,520.60 L263.85,524.20 L261.15,524.20 Z' fill='#000'/>
<line x1='258' y1='553.2' x2='267.5' y2='553.2' stroke='#000' stroke-width='1.6' />
<text x='317.75' y='511.7' font-size='8.7' text-anchor='middle' font-weight='bold' font-style='italic' font-family='"Liberation Serif", serif' fill='#000'  stroke='#000' stroke-width='0.3'>FLJ14213</text>
<rect x='294.75' y='514.30' width='44.65' height='4.50' fill='#000' />
<line x1='300.25' y1='547.2' x2='300.25' y2='519.4' stroke='#000' stroke-width='0.8' />
<path d='M300.25,520.40 L301.60,524.00 L298.90,524.00 Z' fill='#000'/>
<line x1='295.8' y1='553.2' x2='305.5' y2='553.2' stroke='#000' stroke-width='1.6' />
<line x1='315.25' y1='547.2' x2='315.25' y2='519.4' stroke='#000' stroke-width='0.8' />
<path d='M315.25,520.40 L316.60,524.00 L313.90,524.00 Z' fill='#000'/>
<line x1='310.8' y1='553.2' x2='321' y2='553.2' stroke='#000' stroke-width='1.6' />
<line x1='332.5' y1='547.2' x2='332.5' y2='519.4' stroke='#000' stroke-width='0.8' />
<path d='M332.50,520.40 L333.85,524.00 L331.15,524.00 Z' fill='#000'/>
<line x1='327.6' y1='553.2' x2='337.8' y2='553.2' stroke='#000' stroke-width='1.6' />
<line x1='371.25' y1='489.6' x2='354.3' y2='489.6' stroke='#000' stroke-width='1.15' />
<path d='M351.3,489.6 L356.90000000000003,487.3 L356.90000000000003,491.90000000000003 Z' fill='#000'/>
<text x='360.9' y='500.7' font-size='8.7' text-anchor='middle' font-weight='bold' font-style='italic' font-family='"Liberation Serif", serif' fill='#000'  stroke='#000' stroke-width='0.3'>TRAF6</text>
<rect x='348.85' y='504.50' width='30.75' height='4.50' fill='#000' />
<line x1='354.2' y1='547.2' x2='354.2' y2='509.8' stroke='#000' stroke-width='0.8' />
<path d='M354.20,510.80 L355.55,514.40 L352.85,514.40 Z' fill='#000'/>
<line x1='349.7' y1='553.2' x2='359.9' y2='553.2' stroke='#000' stroke-width='1.6' />
<line x1='370.6' y1='547.2' x2='370.6' y2='509.8' stroke='#000' stroke-width='0.8' />
<path d='M370.60,510.80 L371.95,514.40 L369.25,514.40 Z' fill='#000'/>
<line x1='366.1' y1='553.2' x2='376.3' y2='553.2' stroke='#000' stroke-width='1.6' />
<line x1='393.1' y1='501.25' x2='410.75' y2='501.25' stroke='#000' stroke-width='1.15' />
<path d='M413.75,501.25 L408.15,498.95 L408.15,503.55 Z' fill='#000'/>
<text x='403' y='511.2' font-size='8.7' text-anchor='middle' font-weight='bold' font-style='italic' font-family='"Liberation Serif", serif' fill='#000'  stroke='#000' stroke-width='0.3'>RAG1</text>
<rect x='384.75' y='514.40' width='9.25' height='5.10' fill='#000' />
<line x1='393.5' y1='517' x2='404.5' y2='517' stroke='#000' stroke-width='1.1' />
<rect x='404.00' y='514.40' width='17.90' height='5.10' fill='#000' />
<line x1='412.25' y1='547.2' x2='412.25' y2='521.5' stroke='#000' stroke-width='0.8' />
<path d='M412.25,522.50 L413.60,526.10 L410.90,526.10 Z' fill='#000'/>
<line x1='407.3' y1='553.2' x2='417.4' y2='553.2' stroke='#000' stroke-width='1.6' />
<line x1='462.75' y1='489.4' x2='446.5' y2='489.4' stroke='#000' stroke-width='1.15' />
<path d='M443.5,489.4 L449.1,487.09999999999997 L449.1,491.7 Z' fill='#000'/>
<text x='453.45' y='500.6' font-size='8.7' text-anchor='middle' font-weight='bold' font-style='italic' font-family='"Liberation Serif", serif' fill='#000'  stroke='#000' stroke-width='0.3'>RAG2</text>
<rect x='431.00' y='504.00' width='18.40' height='5.00' fill='#000' />
<line x1='449' y1='506.5' x2='458' y2='506.5' stroke='#000' stroke-width='1.1' />
<rect x='457.75' y='504.00' width='9.50' height='5.00' fill='#000' />
<line x1='444.75' y1='547.2' x2='444.75' y2='510.9' stroke='#000' stroke-width='0.8' />
<path d='M444.75,511.90 L446.10,515.50 L443.40,515.50 Z' fill='#000'/>
<line x1='440.4' y1='553.2' x2='450.2' y2='553.2' stroke='#000' stroke-width='1.6' />
<text x='496.5' y='511.4' font-size='8.7' text-anchor='middle' font-weight='bold' font-style='italic' font-family='"Liberation Serif", serif' fill='#000'  stroke='#000' stroke-width='0.3'>LOC119710</text>
<rect x='480.90' y='514.30' width='30.70' height='4.50' fill='#000' />
<line x1='501.5' y1='547.2' x2='501.5' y2='519.45' stroke='#000' stroke-width='0.8' />
<path d='M501.50,520.45 L502.85,524.05 L500.15,524.05 Z' fill='#000'/>
<line x1='496.6' y1='553.2' x2='506.8' y2='553.2' stroke='#000' stroke-width='1.6' />
<text x='26.6' y='554.6' font-size='8.6' text-anchor='middle' font-weight='bold' font-style='normal' font-family='"Liberation Serif", serif' fill='#000'  stroke='#000' stroke-width='0.3'>60-mer</text>
<text x='26.9' y='563.6' font-size='8.6' text-anchor='middle' font-weight='bold' font-style='normal' font-family='"Liberation Serif", serif' fill='#000'  stroke='#000' stroke-width='0.3'>oligos</text>
<text x='19.5' y='594.5' font-size='9.9' text-anchor='start' font-weight='bold' font-style='normal' font-family='"Liberation Serif", serif' fill='#000'  stroke='#000' stroke-width='0.3'>1950</text>
<text x='71.5' y='594.5' font-size='9.9' text-anchor='middle' font-weight='bold' font-style='normal' font-family='"Liberation Serif", serif' fill='#000'  stroke='#000' stroke-width='0.3'>N</text>
<text x='127.5' y='594.5' font-size='9.9' text-anchor='middle' font-weight='bold' font-style='normal' font-family='"Liberation Serif", serif' fill='#000'  stroke='#000' stroke-width='0.3'>U</text>
<text x='146.5' y='594.5' font-size='9.9' text-anchor='middle' font-weight='bold' font-style='normal' font-family='"Liberation Serif", serif' fill='#000'  stroke='#000' stroke-width='0.3'>N</text>
<text x='196' y='594.5' font-size='9.9' text-anchor='middle' font-weight='bold' font-style='normal' font-family='"Liberation Serif", serif' fill='#000'  stroke='#000' stroke-width='0.3'>L</text>
<text x='220' y='594.5' font-size='9.9' text-anchor='middle' font-weight='bold' font-style='normal' font-family='"Liberation Serif", serif' fill='#000'  stroke='#000' stroke-width='0.3'>L</text>
<text x='262.5' y='594.5' font-size='9.9' text-anchor='middle' font-weight='bold' font-style='normal' font-family='"Liberation Serif", serif' fill='#000'  stroke='#000' stroke-width='0.3'>L</text>
<text x='301' y='594.5' font-size='9.9' text-anchor='middle' font-weight='bold' font-style='normal' font-family='"Liberation Serif", serif' fill='#000'  stroke='#000' stroke-width='0.3'>L</text>
<text x='316.5' y='594.5' font-size='9.9' text-anchor='middle' font-weight='bold' font-style='normal' font-family='"Liberation Serif", serif' fill='#000'  stroke='#000' stroke-width='0.3'>L</text>
<text x='333.5' y='594.5' font-size='9.9' text-anchor='middle' font-weight='bold' font-style='normal' font-family='"Liberation Serif", serif' fill='#000'  stroke='#000' stroke-width='0.3'>L</text>
<text x='356.5' y='594.5' font-size='9.9' text-anchor='middle' font-weight='bold' font-style='normal' font-family='"Liberation Serif", serif' fill='#000'  stroke='#000' stroke-width='0.3'>L</text>
<text x='371' y='594.5' font-size='9.9' text-anchor='middle' font-weight='bold' font-style='normal' font-family='"Liberation Serif", serif' fill='#000'  stroke='#000' stroke-width='0.3'>L</text>
<text x='412.5' y='594.5' font-size='9.9' text-anchor='middle' font-weight='bold' font-style='normal' font-family='"Liberation Serif", serif' fill='#000'  stroke='#000' stroke-width='0.3'>L</text>
<text x='447' y='594.5' font-size='9.9' text-anchor='middle' font-weight='bold' font-style='normal' font-family='"Liberation Serif", serif' fill='#000'  stroke='#000' stroke-width='0.3'>L</text>
<text x='503.5' y='594.5' font-size='9.9' text-anchor='middle' font-weight='bold' font-style='normal' font-family='"Liberation Serif", serif' fill='#000'  stroke='#000' stroke-width='0.3'>N</text>
<text x='19.5' y='623.5' font-size='9.9' text-anchor='start' font-weight='bold' font-style='normal' font-family='"Liberation Serif", serif' fill='#000'  stroke='#000' stroke-width='0.3'>2846</text>
<text x='71.5' y='623.5' font-size='9.9' text-anchor='middle' font-weight='bold' font-style='normal' font-family='"Liberation Serif", serif' fill='#000'  stroke='#000' stroke-width='0.3'>N</text>
<text x='127.5' y='623.5' font-size='9.9' text-anchor='middle' font-weight='bold' font-style='normal' font-family='"Liberation Serif", serif' fill='#000'  stroke='#000' stroke-width='0.3'>N</text>
<text x='146.5' y='623.5' font-size='9.9' text-anchor='middle' font-weight='bold' font-style='normal' font-family='"Liberation Serif", serif' fill='#000'  stroke='#000' stroke-width='0.3'>N</text>
<text x='196' y='623.5' font-size='9.9' text-anchor='middle' font-weight='bold' font-style='normal' font-family='"Liberation Serif", serif' fill='#000'  stroke='#000' stroke-width='0.3'>L</text>
<text x='220' y='623.5' font-size='9.9' text-anchor='middle' font-weight='bold' font-style='normal' font-family='"Liberation Serif", serif' fill='#000'  stroke='#000' stroke-width='0.3'>L</text>
<text x='262.5' y='623.5' font-size='9.9' text-anchor='middle' font-weight='bold' font-style='normal' font-family='"Liberation Serif", serif' fill='#000'  stroke='#000' stroke-width='0.3'>L</text>
<text x='301' y='623.5' font-size='9.9' text-anchor='middle' font-weight='bold' font-style='normal' font-family='"Liberation Serif", serif' fill='#000'  stroke='#000' stroke-width='0.3'>L</text>
<text x='316.5' y='623.5' font-size='9.9' text-anchor='middle' font-weight='bold' font-style='normal' font-family='"Liberation Serif", serif' fill='#000'  stroke='#000' stroke-width='0.3'>L</text>
<text x='333.5' y='623.5' font-size='9.9' text-anchor='middle' font-weight='bold' font-style='normal' font-family='"Liberation Serif", serif' fill='#000'  stroke='#000' stroke-width='0.3'>L</text>
<text x='356.5' y='623.5' font-size='9.9' text-anchor='middle' font-weight='bold' font-style='normal' font-family='"Liberation Serif", serif' fill='#000'  stroke='#000' stroke-width='0.3'>L</text>
<text x='371' y='623.5' font-size='9.9' text-anchor='middle' font-weight='bold' font-style='normal' font-family='"Liberation Serif", serif' fill='#000'  stroke='#000' stroke-width='0.3'>L</text>
<text x='412.5' y='623.5' font-size='9.9' text-anchor='middle' font-weight='bold' font-style='normal' font-family='"Liberation Serif", serif' fill='#000'  stroke='#000' stroke-width='0.3'>L</text>
<text x='447' y='623.5' font-size='9.9' text-anchor='middle' font-weight='bold' font-style='normal' font-family='"Liberation Serif", serif' fill='#000'  stroke='#000' stroke-width='0.3'>L</text>
<text x='503.5' y='623.5' font-size='9.9' text-anchor='middle' font-weight='bold' font-style='normal' font-family='"Liberation Serif", serif' fill='#000'  stroke='#000' stroke-width='0.3'>N</text>
<text x='19.5' y='653.5' font-size='9.9' text-anchor='start' font-weight='bold' font-style='normal' font-family='"Liberation Serif", serif' fill='#000'  stroke='#000' stroke-width='0.3'>2104</text>
<text x='71.5' y='653.5' font-size='9.9' text-anchor='middle' font-weight='bold' font-style='normal' font-family='"Liberation Serif", serif' fill='#000'  stroke='#000' stroke-width='0.3'>N</text>
<text x='127.5' y='653.5' font-size='9.9' text-anchor='middle' font-weight='bold' font-style='normal' font-family='"Liberation Serif", serif' fill='#000'  stroke='#000' stroke-width='0.3'>L</text>
<text x='148.5' y='653.5' font-size='9.9' text-anchor='middle' font-weight='bold' font-style='normal' font-family='"Liberation Serif", serif' fill='#000'  stroke='#000' stroke-width='0.3'>L</text>
<text x='196' y='653.5' font-size='9.9' text-anchor='middle' font-weight='bold' font-style='normal' font-family='"Liberation Serif", serif' fill='#000'  stroke='#000' stroke-width='0.3'>L</text>
<text x='220' y='653.5' font-size='9.9' text-anchor='middle' font-weight='bold' font-style='normal' font-family='"Liberation Serif", serif' fill='#000'  stroke='#000' stroke-width='0.3'>L</text>
<text x='262.5' y='653.5' font-size='9.9' text-anchor='middle' font-weight='bold' font-style='normal' font-family='"Liberation Serif", serif' fill='#000'  stroke='#000' stroke-width='0.3'>L</text>
<text x='301' y='653.5' font-size='9.9' text-anchor='middle' font-weight='bold' font-style='normal' font-family='"Liberation Serif", serif' fill='#000'  stroke='#000' stroke-width='0.3'>L</text>
<text x='316.5' y='653.5' font-size='9.9' text-anchor='middle' font-weight='bold' font-style='normal' font-family='"Liberation Serif", serif' fill='#000'  stroke='#000' stroke-width='0.3'>L</text>
<text x='333.5' y='653.5' font-size='9.9' text-anchor='middle' font-weight='bold' font-style='normal' font-family='"Liberation Serif", serif' fill='#000'  stroke='#000' stroke-width='0.3'>N</text>
<text x='356.5' y='653.5' font-size='9.9' text-anchor='middle' font-weight='bold' font-style='normal' font-family='"Liberation Serif", serif' fill='#000'  stroke='#000' stroke-width='0.3'>N</text>
<text x='371' y='653.5' font-size='9.9' text-anchor='middle' font-weight='bold' font-style='normal' font-family='"Liberation Serif", serif' fill='#000'  stroke='#000' stroke-width='0.3'>N</text>
<text x='412.5' y='653.5' font-size='9.9' text-anchor='middle' font-weight='bold' font-style='normal' font-family='"Liberation Serif", serif' fill='#000'  stroke='#000' stroke-width='0.3'>N</text>
<text x='447' y='653.5' font-size='9.9' text-anchor='middle' font-weight='bold' font-style='normal' font-family='"Liberation Serif", serif' fill='#000'  stroke='#000' stroke-width='0.3'>N</text>
<text x='503.5' y='653.5' font-size='9.9' text-anchor='middle' font-weight='bold' font-style='normal' font-family='"Liberation Serif", serif' fill='#000'  stroke='#000' stroke-width='0.3'>N</text>
<text x='19.5' y='682.0' font-size='9.9' text-anchor='start' font-weight='bold' font-style='normal' font-family='"Liberation Serif", serif' fill='#000'  stroke='#000' stroke-width='0.3'>10110</text>
<text x='71.5' y='682.0' font-size='9.9' text-anchor='middle' font-weight='bold' font-style='normal' font-family='"Liberation Serif", serif' fill='#000'  stroke='#000' stroke-width='0.3'>N</text>
<text x='127.5' y='682.0' font-size='9.9' text-anchor='middle' font-weight='bold' font-style='normal' font-family='"Liberation Serif", serif' fill='#000'  stroke='#000' stroke-width='0.3'>N</text>
<text x='146.5' y='682.0' font-size='9.9' text-anchor='middle' font-weight='bold' font-style='normal' font-family='"Liberation Serif", serif' fill='#000'  stroke='#000' stroke-width='0.3'>N</text>
<text x='196' y='682.0' font-size='9.9' text-anchor='middle' font-weight='bold' font-style='normal' font-family='"Liberation Serif", serif' fill='#000'  stroke='#000' stroke-width='0.3'>L</text>
<text x='220' y='682.0' font-size='9.9' text-anchor='middle' font-weight='bold' font-style='normal' font-family='"Liberation Serif", serif' fill='#000'  stroke='#000' stroke-width='0.3'>L</text>
<text x='262.5' y='682.0' font-size='9.9' text-anchor='middle' font-weight='bold' font-style='normal' font-family='"Liberation Serif", serif' fill='#000'  stroke='#000' stroke-width='0.3'>L</text>
<text x='301' y='682.0' font-size='9.9' text-anchor='middle' font-weight='bold' font-style='normal' font-family='"Liberation Serif", serif' fill='#000'  stroke='#000' stroke-width='0.3'>L</text>
<text x='316.5' y='682.0' font-size='9.9' text-anchor='middle' font-weight='bold' font-style='normal' font-family='"Liberation Serif", serif' fill='#000'  stroke='#000' stroke-width='0.3'>L</text>
<text x='333.5' y='682.0' font-size='9.9' text-anchor='middle' font-weight='bold' font-style='normal' font-family='"Liberation Serif", serif' fill='#000'  stroke='#000' stroke-width='0.3'>L</text>
<text x='356.5' y='682.0' font-size='9.9' text-anchor='middle' font-weight='bold' font-style='normal' font-family='"Liberation Serif", serif' fill='#000'  stroke='#000' stroke-width='0.3'>L</text>
<text x='371' y='682.0' font-size='9.9' text-anchor='middle' font-weight='bold' font-style='normal' font-family='"Liberation Serif", serif' fill='#000'  stroke='#000' stroke-width='0.3'>L</text>
<text x='412.5' y='682.0' font-size='9.9' text-anchor='middle' font-weight='bold' font-style='normal' font-family='"Liberation Serif", serif' fill='#000'  stroke='#000' stroke-width='0.3'>L</text>
<text x='447' y='682.0' font-size='9.9' text-anchor='middle' font-weight='bold' font-style='normal' font-family='"Liberation Serif", serif' fill='#000'  stroke='#000' stroke-width='0.3'>L</text>
<text x='503.5' y='682.0' font-size='9.9' text-anchor='middle' font-weight='bold' font-style='normal' font-family='"Liberation Serif", serif' fill='#000'  stroke='#000' stroke-width='0.3'>N</text>
<text x='19.5' y='711.0' font-size='9.9' text-anchor='start' font-weight='bold' font-style='normal' font-family='"Liberation Serif", serif' fill='#000'  stroke='#000' stroke-width='0.3'>2774</text>
<text x='71.5' y='711.0' font-size='9.9' text-anchor='middle' font-weight='bold' font-style='normal' font-family='"Liberation Serif", serif' fill='#000'  stroke='#000' stroke-width='0.3'>N</text>
<text x='127.5' y='711.0' font-size='9.9' text-anchor='middle' font-weight='bold' font-style='normal' font-family='"Liberation Serif", serif' fill='#000'  stroke='#000' stroke-width='0.3'>N</text>
<text x='146.5' y='711.0' font-size='9.9' text-anchor='middle' font-weight='bold' font-style='normal' font-family='"Liberation Serif", serif' fill='#000'  stroke='#000' stroke-width='0.3'>N</text>
<text x='196' y='711.0' font-size='9.9' text-anchor='middle' font-weight='bold' font-style='normal' font-family='"Liberation Serif", serif' fill='#000'  stroke='#000' stroke-width='0.3'>L</text>
<text x='220' y='711.0' font-size='9.9' text-anchor='middle' font-weight='bold' font-style='normal' font-family='"Liberation Serif", serif' fill='#000'  stroke='#000' stroke-width='0.3'>L</text>
<text x='262.5' y='711.0' font-size='9.9' text-anchor='middle' font-weight='bold' font-style='normal' font-family='"Liberation Serif", serif' fill='#000'  stroke='#000' stroke-width='0.3'>L</text>
<text x='301' y='711.0' font-size='9.9' text-anchor='middle' font-weight='bold' font-style='normal' font-family='"Liberation Serif", serif' fill='#000'  stroke='#000' stroke-width='0.3'>L</text>
<text x='316.5' y='711.0' font-size='9.9' text-anchor='middle' font-weight='bold' font-style='normal' font-family='"Liberation Serif", serif' fill='#000'  stroke='#000' stroke-width='0.3'>L</text>
<text x='333.5' y='711.0' font-size='9.9' text-anchor='middle' font-weight='bold' font-style='normal' font-family='"Liberation Serif", serif' fill='#000'  stroke='#000' stroke-width='0.3'>L</text>
<text x='356.5' y='711.0' font-size='9.9' text-anchor='middle' font-weight='bold' font-style='normal' font-family='"Liberation Serif", serif' fill='#000'  stroke='#000' stroke-width='0.3'>N</text>
<text x='371' y='711.0' font-size='9.9' text-anchor='middle' font-weight='bold' font-style='normal' font-family='"Liberation Serif", serif' fill='#000'  stroke='#000' stroke-width='0.3'>N</text>
<text x='412.5' y='711.0' font-size='9.9' text-anchor='middle' font-weight='bold' font-style='normal' font-family='"Liberation Serif", serif' fill='#000'  stroke='#000' stroke-width='0.3'>N</text>
<text x='447' y='711.0' font-size='9.9' text-anchor='middle' font-weight='bold' font-style='normal' font-family='"Liberation Serif", serif' fill='#000'  stroke='#000' stroke-width='0.3'>N</text>
<text x='503.5' y='711.0' font-size='9.9' text-anchor='middle' font-weight='bold' font-style='normal' font-family='"Liberation Serif", serif' fill='#000'  stroke='#000' stroke-width='0.3'>N</text>
<text x='19.5' y='740.0' font-size='9.9' text-anchor='start' font-weight='bold' font-style='normal' font-family='"Liberation Serif", serif' fill='#000'  stroke='#000' stroke-width='0.3'>704</text>
<text x='71.5' y='740.0' font-size='9.9' text-anchor='middle' font-weight='bold' font-style='normal' font-family='"Liberation Serif", serif' fill='#000'  stroke='#000' stroke-width='0.3'>N</text>
<text x='127.5' y='740.0' font-size='9.9' text-anchor='middle' font-weight='bold' font-style='normal' font-family='"Liberation Serif", serif' fill='#000'  stroke='#000' stroke-width='0.3'>N</text>
<text x='146.5' y='740.0' font-size='9.9' text-anchor='middle' font-weight='bold' font-style='normal' font-family='"Liberation Serif", serif' fill='#000'  stroke='#000' stroke-width='0.3'>N</text>
<text x='196' y='740.0' font-size='9.9' text-anchor='middle' font-weight='bold' font-style='normal' font-family='"Liberation Serif", serif' fill='#000'  stroke='#000' stroke-width='0.3'>L</text>
<text x='223.5' y='740.0' font-size='9.9' text-anchor='middle' font-weight='bold' font-style='normal' font-family='"Liberation Serif", serif' fill='#000'  stroke='#000' stroke-width='0.3'>L</text>
<text x='262.5' y='740.0' font-size='9.9' text-anchor='middle' font-weight='bold' font-style='normal' font-family='"Liberation Serif", serif' fill='#000'  stroke='#000' stroke-width='0.3'>L</text>
<text x='301' y='740.0' font-size='9.9' text-anchor='middle' font-weight='bold' font-style='normal' font-family='"Liberation Serif", serif' fill='#000'  stroke='#000' stroke-width='0.3'>L</text>
<text x='316.5' y='740.0' font-size='9.9' text-anchor='middle' font-weight='bold' font-style='normal' font-family='"Liberation Serif", serif' fill='#000'  stroke='#000' stroke-width='0.3'>L</text>
<text x='333.5' y='740.0' font-size='9.9' text-anchor='middle' font-weight='bold' font-style='normal' font-family='"Liberation Serif", serif' fill='#000'  stroke='#000' stroke-width='0.3'>N</text>
<text x='356.5' y='740.0' font-size='9.9' text-anchor='middle' font-weight='bold' font-style='normal' font-family='"Liberation Serif", serif' fill='#000'  stroke='#000' stroke-width='0.3'>N</text>
<text x='371' y='740.0' font-size='9.9' text-anchor='middle' font-weight='bold' font-style='normal' font-family='"Liberation Serif", serif' fill='#000'  stroke='#000' stroke-width='0.3'>N</text>
<text x='412.5' y='740.0' font-size='9.9' text-anchor='middle' font-weight='bold' font-style='normal' font-family='"Liberation Serif", serif' fill='#000'  stroke='#000' stroke-width='0.3'>N</text>
<text x='447' y='740.0' font-size='9.9' text-anchor='middle' font-weight='bold' font-style='normal' font-family='"Liberation Serif", serif' fill='#000'  stroke='#000' stroke-width='0.3'>N</text>
<text x='503.5' y='740.0' font-size='9.9' text-anchor='middle' font-weight='bold' font-style='normal' font-family='"Liberation Serif", serif' fill='#000'  stroke='#000' stroke-width='0.3'>N</text>
</svg>
</body></html>
